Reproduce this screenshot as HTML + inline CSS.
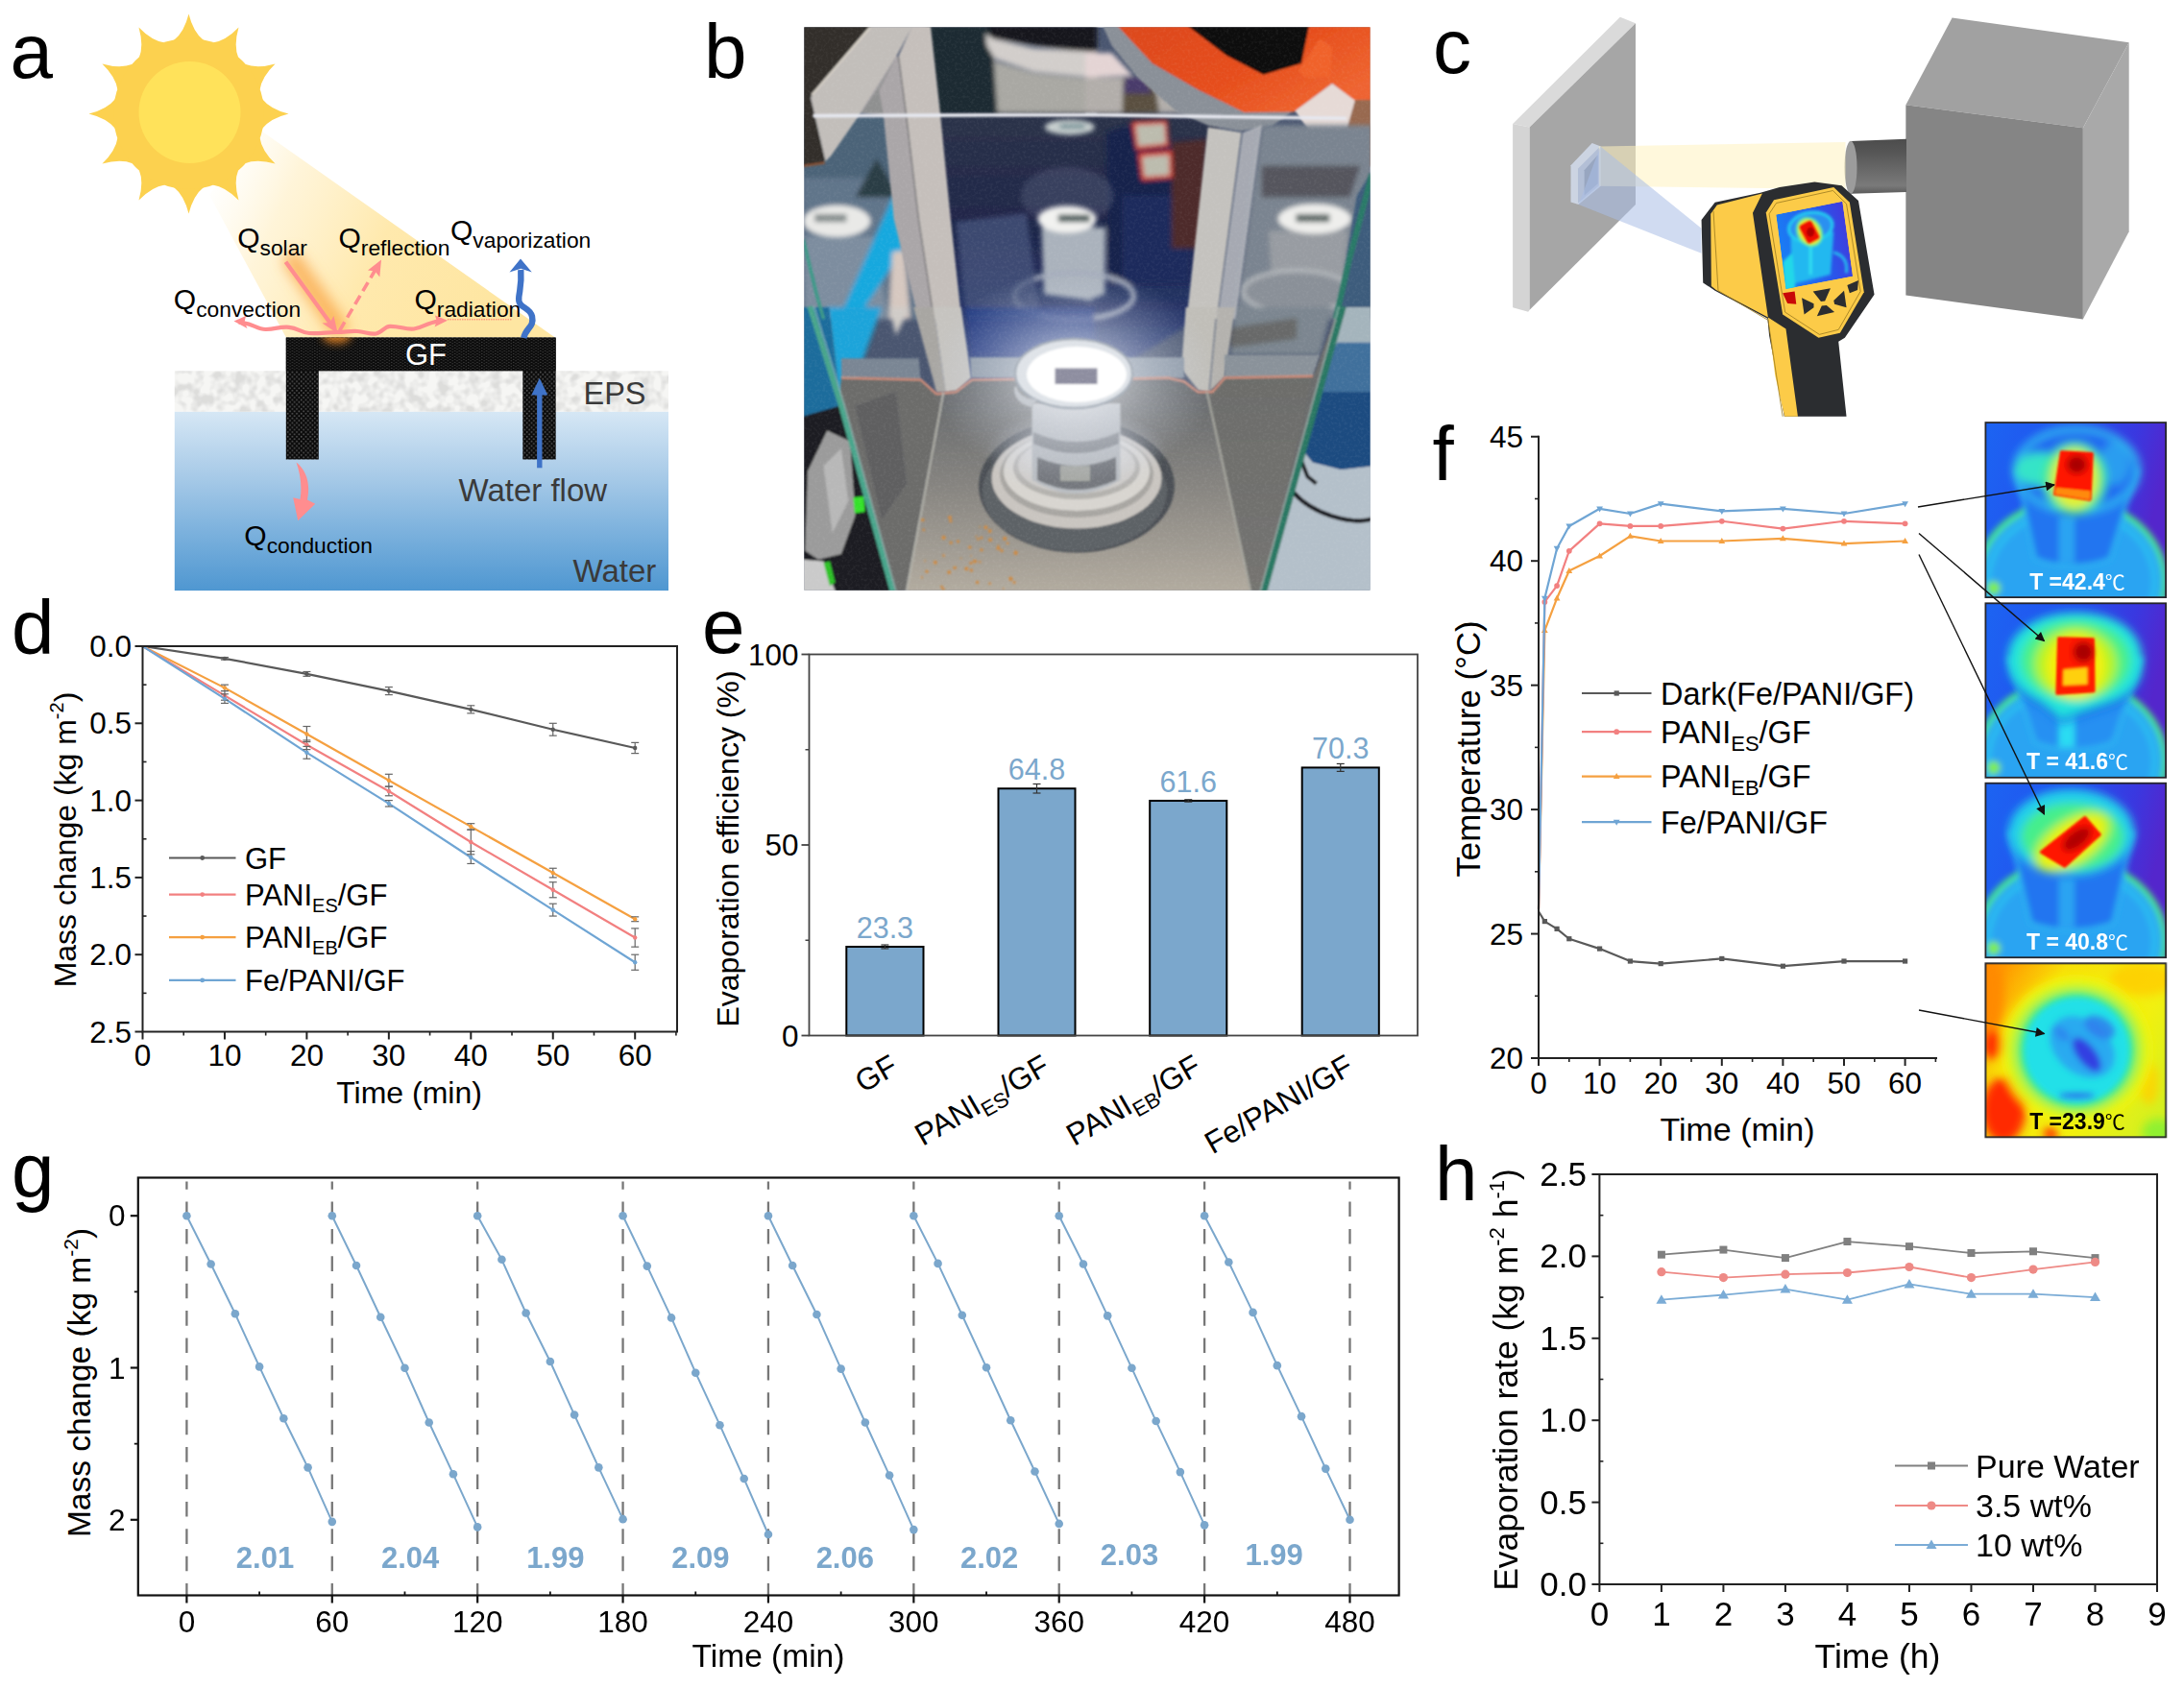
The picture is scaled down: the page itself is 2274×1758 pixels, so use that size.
<!DOCTYPE html>
<html><head><meta charset="utf-8"><title>Figure</title>
<style>html,body{margin:0;padding:0;background:#fff}svg{display:block}text{font-family:'Liberation Sans', Arial, sans-serif}</style>
</head><body>
<svg width="2274" height="1758" viewBox="0 0 2274 1758">
<rect width="2274" height="1758" fill="#fff"/>
<g id="panel_a">
<defs>
<linearGradient id="beam" gradientUnits="userSpaceOnUse" x1="215" y1="195" x2="500" y2="330"><stop offset="0" stop-color="#fff6dc" stop-opacity="0"/><stop offset="0.25" stop-color="#fff1cc" stop-opacity="0.75"/><stop offset="0.6" stop-color="#ffe9ad"/><stop offset="1" stop-color="#fee6a2"/></linearGradient>
<linearGradient id="water" x1="0" x2="0" y1="0" y2="1"><stop offset="0" stop-color="#d6e7f5"/><stop offset="0.35" stop-color="#a9cbe8"/><stop offset="0.7" stop-color="#78afdc"/><stop offset="1" stop-color="#4f97d1"/></linearGradient>
<pattern id="gfdots" width="4.7" height="4.8" patternUnits="userSpaceOnUse"><rect width="4.7" height="4.8" fill="#0a0a0a"/><circle cx="1.2" cy="1.2" r="0.85" fill="#5a5a5a"/><circle cx="3.55" cy="3.6" r="0.85" fill="#5a5a5a"/></pattern>
<pattern id="gfdots2" width="4.7" height="3" patternUnits="userSpaceOnUse"><rect width="4.7" height="3" fill="#0a0a0a"/><ellipse cx="1.2" cy="0.8" rx="0.85" ry="0.5" fill="#4a4a4a"/><ellipse cx="3.55" cy="2.3" rx="0.85" ry="0.5" fill="#4a4a4a"/></pattern>
<filter id="epsn" x="0" y="0" width="100%" height="100%"><feTurbulence type="fractalNoise" baseFrequency="0.09" numOctaves="2" seed="4" result="n"/><feColorMatrix type="matrix" values="0 0 0 0 0.72  0 0 0 0 0.72  0 0 0 0 0.71  3.2 0 0 0 -1.25"/><feComposite in2="SourceGraphic" operator="in"/></filter>
<filter id="glow" x="-50%" y="-50%" width="200%" height="200%"><feGaussianBlur stdDeviation="7"/></filter>
<filter id="glow2" x="-50%" y="-50%" width="200%" height="200%"><feGaussianBlur stdDeviation="4"/></filter>
</defs>
<path d="M270.7,135.3 L577.9,351.6 L297.9,351.6 L218,203 Z" fill="url(#beam)"/>
<path d="M180.95,42.07 Q191.76,33.63 196.5,14.5 Q201.24,33.63 212.05,42.07 Z M221.25,44.53 Q234.82,42.63 248.5,28.43 Q243.04,47.38 248.18,60.08 Z M254.92,66.82 Q267.62,71.96 286.57,66.5 Q272.37,80.18 270.47,93.75 Z M272.93,102.95 Q281.37,113.76 300.5,118.5 Q281.37,123.24 272.93,134.05 Z M270.47,143.25 Q272.37,156.82 286.57,170.5 Q267.62,165.04 254.92,170.18 Z M248.18,176.92 Q243.04,189.62 248.5,208.57 Q234.82,194.37 221.25,192.47 Z M212.05,194.93 Q201.24,203.37 196.5,222.5 Q191.76,203.37 180.95,194.93 Z M171.75,192.47 Q158.18,194.37 144.5,208.57 Q149.96,189.62 144.82,176.92 Z M138.08,170.18 Q125.38,165.04 106.43,170.5 Q120.63,156.82 122.53,143.25 Z M120.07,134.05 Q111.63,123.24 92.5,118.5 Q111.63,113.76 120.07,102.95 Z M122.53,93.75 Q120.63,80.18 106.43,66.5 Q125.38,71.96 138.08,66.82 Z M144.82,60.08 Q149.96,47.38 144.5,28.43 Q158.18,42.63 171.75,44.53 Z" fill="#fcd14f"/>
<circle cx="196.5" cy="118.5" r="78.5" fill="#fcd14f"/>
<circle cx="197.5" cy="117.0" r="53" fill="#ffe25a"/>
<rect x="181.8" y="428.6" width="514.2" height="186.5" fill="url(#water)"/>
<rect x="181.8" y="386.4" width="514.2" height="42.3" fill="#f6f6f4"/>
<rect x="181.8" y="386.4" width="514.2" height="42.3" fill="#888" filter="url(#epsn)"/>
<g filter="url(#glow)"><path d="M305,272 L352,340" stroke="#f9a643" stroke-width="20" stroke-linecap="round" fill="none" opacity="0.75"/></g>
<path d="M297.8,351.6 H578.7 V478.6 H544.3 V386.2 H331.8 V478.6 H297.8 Z" fill="url(#gfdots)"/>
<rect x="297.8" y="351.6" width="280.9" height="34.6" fill="url(#gfdots2)"/>
<clipPath id="gfclip"><path d="M297.8,351.6 H578.7 V478.6 H544.3 V386.2 H331.8 V478.6 H297.8 Z"/></clipPath>
<g clip-path="url(#gfclip)"><ellipse cx="350.5" cy="350" rx="15" ry="8" fill="#f08a28" filter="url(#glow2)" opacity="0.8"/></g>
<text x="443.5" y="380" font-size="31" text-anchor="middle" fill="#fff" >GF</text>
<line x1="297.5" y1="272.7" x2="346" y2="339.5" stroke="#ff8d8f" stroke-width="4.2"/>
<path d="M351.8,347.5 L335.5,336.5 L343.5,336 L347.5,329 Z" fill="#ff8d8f"/>
<line x1="353.5" y1="344.5" x2="390.5" y2="281.5" stroke="#ff8d8f" stroke-width="3.6" stroke-dasharray="10.5 5.5"/>
<path d="M397,270.5 L395.3,288.5 L390.5,282.5 L383,281.5 Z" fill="#ff8d8f"/>
<path d="M250,336 C262,336 268,343.5 277,343 C288,342.5 292,340 301,340.8 C310,341.5 314,346.5 322,347 C334,347.5 340,346 351,346 C360,346 364,344.5 372,345 C380,345.5 385,348.5 391.5,347.5 C398,346.5 400,340 406,339.8 C416,339.5 422,343.5 431,342.5 C440,341.5 444,336 457,334.5" stroke="#ff8d8f" stroke-width="4.2" fill="none" stroke-linecap="round"/>
<path d="M243.5,334.5 L256,329 L254.5,335.5 L257.5,342 Z" fill="#ff8d8f"/>
<path d="M466,333.8 L453,328.5 L454.8,334.5 L452.5,340.5 Z" fill="#ff8d8f"/>
<line x1="466" y1="332.8" x2="532.5" y2="332.8" stroke="#ff6060" stroke-width="1" stroke-dasharray="1.5 1" opacity="0.8"/>
<path d="M545.3,352 C547.5,341 556.5,341 554,329.5 C551.5,318.5 538.5,322 540.3,309 C541.5,300 543.2,296 542.3,281" stroke="#3f73c8" stroke-width="6.4" fill="none"/>
<path d="M542,269.5 L553.8,283.5 L542.3,279.8 L530.5,283.5 Z" fill="#3f73c8"/>
<line x1="561.8" y1="487.3" x2="561.8" y2="408" stroke="#3f73c8" stroke-width="5.4"/>
<path d="M561.8,393.8 L570.3,411.5 L553.3,411.5 Z" fill="#3f73c8"/>
<path d="M308.5,481.5 C319,490 323.5,503 320,520.5 L328.2,524.8 L310.2,542.2 L305.2,518.2 L312.5,520 C315,505 312,492 308.5,481.5 Z" fill="#ff8d8f"/>
<text x="247.2" y="258.2" font-size="30">Q<tspan font-size="22.8" dy="8">solar</tspan></text>
<text x="352.5" y="258.2" font-size="30">Q<tspan font-size="22.8" dy="8">reflection</tspan></text>
<text x="469" y="249.5" font-size="30">Q<tspan font-size="22.8" dy="8">vaporization</tspan></text>
<text x="180.8" y="321.5" font-size="30">Q<tspan font-size="22.8" dy="8">convection</tspan></text>
<text x="431.5" y="321.5" font-size="30">Q<tspan font-size="22.8" dy="8">radiation</tspan></text>
<text x="254.3" y="567.7" font-size="30">Q<tspan font-size="22.8" dy="8">conduction</tspan></text>
<text x="607.5" y="421" font-size="32.5" text-anchor="start" fill="#3a3a3a" >EPS</text>
<text x="477.5" y="522.3" font-size="33" text-anchor="start" fill="#3a3a3a" >Water flow</text>
<text x="596.5" y="605.6" font-size="33" text-anchor="start" fill="#3a3a3a" >Water</text>
<text x="10.5" y="81" font-size="80" text-anchor="start" fill="#000" >a</text>
</g>
<g id="panel_b">
<defs>
<filter id="pb1" x="-10%" y="-10%" width="120%" height="120%"><feGaussianBlur stdDeviation="1.2"/></filter>
<filter id="pb2" x="-10%" y="-10%" width="120%" height="120%"><feGaussianBlur stdDeviation="2.5"/></filter>
<filter id="pb4" x="-20%" y="-20%" width="140%" height="140%"><feGaussianBlur stdDeviation="5"/></filter>
<filter id="pb8" x="-30%" y="-30%" width="160%" height="160%"><feGaussianBlur stdDeviation="10"/></filter>
<filter id="pnoise" x="0" y="0" width="100%" height="100%"><feTurbulence type="fractalNoise" baseFrequency="0.35" numOctaves="2" seed="7"/><feColorMatrix type="matrix" values="0 0 0 0 1  0 0 0 0 1  0 0 0 0 1  0.9 0 0 0 -0.38"/><feComposite in2="SourceGraphic" operator="in"/></filter>
<radialGradient id="glowb" cx="0.5" cy="0.5" r="0.5"><stop offset="0" stop-color="#fff" stop-opacity="0.85"/><stop offset="0.45" stop-color="#e8ecf4" stop-opacity="0.45"/><stop offset="1" stop-color="#c8d0e0" stop-opacity="0"/></radialGradient>
<linearGradient id="floorg" x1="0" x2="0" y1="0" y2="1"><stop offset="0" stop-color="#606468"/><stop offset="0.5" stop-color="#868480"/><stop offset="1" stop-color="#b3aca0"/></linearGradient>
<linearGradient id="backg" x1="0" x2="0" y1="0" y2="1"><stop offset="0" stop-color="#2c3248"/><stop offset="0.45" stop-color="#1e264a"/><stop offset="1" stop-color="#2c4080"/></linearGradient>
<linearGradient id="orng" x1="0" x2="1" y1="0" y2="0.6"><stop offset="0" stop-color="#dc481a"/><stop offset="0.6" stop-color="#e64e1c"/><stop offset="1" stop-color="#ee6430"/></linearGradient>
</defs>
<clipPath id="pbc"><rect x="837.3" y="28.3" width="589.3" height="586.5"/></clipPath>
<g clip-path="url(#pbc)">
<rect x="837.3" y="28.3" width="589.3" height="586.5" fill="#4a5670"/>
<g filter="url(#pb2)">
<polygon points="958.56,115.5 1142.21,115.5 1130,115.5 1269.58,122.85 1247.54,332.21 1142.21,397.13 976.92,397.13" fill="url(#backg)" />
<polygon points="965.9,25.51 1032.02,25.51 1039.37,119.17 976.92,119.17" fill="#1c2a30" />
<polygon points="1028.35,25.51 1142.21,25.51 1142.21,56.73 1032.02,40.2" fill="#17171c" />
<path d="M1026.14,34.69 L1033.86,40.2 L1076.1,50.3 L1142.21,53.98 L1142.21,81.52 L1076.1,75.1 L1035.69,61.32 L1027.43,47.55" fill="#d2cecb"/>
<polygon points="1034.78,63.16 1076.1,76.01 1142.21,82.44 1142.21,117.34 1038.45,117.34" fill="#a9a8a3" />
<polygon points="1130,80.61 1227.34,80.61 1232.85,117.34 1130,117.34" fill="#b2aeaa" />
<polygon points="1130,54.89 1157.55,54.89 1179.59,78.77 1130,80.61" fill="#e4d4d4" />
<polygon points="1169.49,82.44 1201.63,82.44 1207.13,117.34 1168.57,117.34" fill="#5a5040" />
<polygon points="1171.32,80.61 1190.61,80.61 1199.79,97.13 1169.49,97.13" fill="#4a3a6a" />
</g>
<g filter="url(#pb1)">
<polygon points="1147.45,25.51 1164.89,25.51 1199.79,65.91 1247.54,93.46 1295.29,116.42 1346.71,115.5 1324.67,131.11 1291.62,136.62 1258.56,131.11 1225.5,116.42 1185.1,81.52 1157.55,47.55" fill="#8a9098" />
<polygon points="1162.14,25.51 1429.36,25.51 1429.36,106.32 1410.99,105.4 1387.12,87.03 1347.63,116.42 1295.29,116.97 1247.54,93.46 1199.79,65.91" fill="url(#orng)" />
<polygon points="1234.68,25.51 1363.24,25.51 1354.98,65.91 1315.49,77.85 1276.92,57.65" fill="#0e0808" />
<polygon points="1352.22,73.26 1374.26,40.2 1387.12,49.38 1385.28,80.61 1357.73,80.61" fill="#f0622c" />
<polygon points="1348.55,115.5 1387.12,87.03 1411.91,105.4 1391.71,173.35 1384.36,166.92" fill="#e6dad6" />
<polygon points="1410.99,104.11 1429.36,104.11 1429.36,173.35 1391.16,173.9" fill="#98694f" />
</g>
<g filter="url(#pb2)">
<polygon points="1152.04,137.54 1175.91,130.19 1218.15,148.56 1240.19,203.65 1240.19,295.48 1153.88,295.48" fill="#19244c" />
<polygon points="1168.57,203.65 1240.19,203.65 1240.19,295.48 1168.57,295.48" fill="#1c2c5c" />
<polygon points="1219.99,148.56 1256.72,144.89 1249.38,258.75 1219.99,258.75" fill="#4e2a2a" />
<polygon points="1178.12,126.52 1215.4,125.05 1217.24,152.23 1183.26,156.27" fill="#d8382c" />
<polygon points="1182.34,130.19 1212.64,128.72 1214.11,149.48 1185.1,152.6" fill="#bcbcae" />
<polygon points="1185.1,159.58 1219.99,156.82 1220.91,185.29 1188.77,188.04" fill="#d8382c" />
<polygon points="1189.14,163.25 1217.24,161.05 1217.79,182.53 1191.52,184.37" fill="#bcbcae" />
<ellipse cx="1110.99" cy="203.65" rx="48" ry="30" fill="#6a7490" opacity="0.3"/>
<polygon points="1084.36,236.71 1142.21,236.71 1130,236.71 1151.12,236.71 1150.2,306.5 1130,313.85 1142.21,313.85 1087.12,306.5" fill="#aab2bc" />
<ellipse cx="1118.34" cy="308.34" rx="62" ry="24" fill="none" stroke="#a4acbc" stroke-width="5"/>
<ellipse cx="1110.99" cy="228.45" rx="30.5" ry="14" fill="#f2f2f0" />
<polygon points="1101.81,223.49 1134.87,223.49 1134.87,231.2 1101.81,231.2" fill="#4a5a58" />
<ellipse cx="1113.75" cy="132.4" rx="26" ry="8" fill="#c6cece" />
<polygon points="1103.65,129.27 1129.36,129.27 1129.36,133.87 1103.65,133.87" fill="#6a8a90" />
<polygon points="995.29,231.2 1068.75,222.02 1083.44,332.21 1006.31,332.21" fill="#46547c" opacity="0.75"/>
<polygon points="1004.47,320 1140.01,320 1140.01,371.42 1011.82,371.42" fill="#1f3a84" opacity="0.8"/>
</g>
<g filter="url(#pb2)">
<polygon points="835.51,120.09 947.54,120.09 976.92,332.21 835.51,332.21" fill="#61758a" />
<polygon points="835.51,120.09 947.54,120.09 956.72,185.29 835.51,185.29" fill="#4c6478" />
<polygon points="890.61,205.49 912.64,165.09 937.44,205.49" fill="#2c3c44" />
<polygon points="837.35,245.9 908.97,245.9 925.5,332.21 837.35,332.21" fill="#8494a4" opacity="0.8"/>
<polygon points="929.17,205.49 941.11,203.65 940.19,260.59 892.44,332.21 873.16,332.21" fill="#17a8de" />
<polygon points="861.22,320 918.15,320 885.1,411.83 874.08,419.17" fill="#1aa4da" />
<ellipse cx="871.32" cy="230.28" rx="35" ry="16.5" fill="#e9e9e7" />
<polygon points="848.37,222.94 881.42,222.94 881.42,231.2 848.37,231.2" fill="#848c8c" />
<polygon points="929.17,262.42 942.03,260.59 947.54,332.21 925.5,332.21" fill="#d6c8c0" />
<polygon points="925.5,320 947.54,320 932.85,349.38" fill="#d0ccc8" />
</g>
<g filter="url(#pb1)">
<polygon points="834.63,25.63 908.09,25.63 844.11,101.46 859.51,167.81 834.63,174.33" fill="#302f2b" />
<polyline points="834.63,173.14 858.92,169.59" fill="none" stroke="#8a5236" stroke-width="2.2" />
<polygon points="908.09,25.63 950.74,25.63 932.97,59.4 896.24,117.45 865.44,161.89 859.51,168.05 844.11,101.46" fill="#c2beba" />
<polyline points="906.31,28 845.29,99.09" fill="none" stroke="#d8d2c8" stroke-width="2.2" />
<polygon points="933.21,59.04 935.34,58.81 943.64,120.42 956.67,228 972.33,332.21 956.35,332.21 930.6,228 919.94,120.42 896.24,117.81" fill="#aaa6a8" />
<polygon points="931.79,62.36 914.01,91.98 896.83,117.45 919.94,118.64 915.2,94.35" fill="#8f9090" />
<polygon points="950.15,25.63 968.75,25.63 979.18,120.42 989.84,228 1001.17,332.21 972.33,332.21 956.67,228 943.64,120.42 935.34,59.04" fill="#c5bfbb" />
<polyline points="935.58,59.04 943.64,120.42 956.43,228 972.33,332.21" fill="none" stroke="#6a6a6c" stroke-width="1.2" />
<polygon points="951.21,320 971.78,320 984.64,408.52 975.09,408.52" fill="#a8a6a2" />
<polygon points="971.78,320 1000.8,320 1011.27,393.46 996.21,406.69 984.64,408.52" fill="#c6c4c0" />
</g>
<g filter="url(#pb2)">
<polygon points="1313.65,130.19 1429.36,130.19 1429.36,332.21 1286.11,332.21" fill="#7a8490" />
<polygon points="1313.65,172.43 1416.5,172.43 1405.48,205.49 1313.65,205.49" fill="#4c4a50" opacity="0.8"/>
<polygon points="1321,240.39 1403.65,240.39 1398.14,299.16 1324.67,299.16" fill="#989ca2" />
<ellipse cx="1350.39" cy="303.75" rx="56" ry="22" fill="#8a9098" stroke="#b4b8bc" stroke-width="4"/>
<ellipse cx="1368.75" cy="227.9" rx="38" ry="15.5" fill="#eeeeec" />
<polygon points="1349.47,222.94 1384.36,222.94 1384.36,231.2 1349.47,231.2" fill="#5a6664" />
<polygon points="1286.11,320 1387.12,320 1374.26,369.59 1280.6,369.59" fill="#7c8690" />
<polygon points="1276.92,342.04 1350.39,331.02 1350.39,353.06 1280.6,362.24" fill="#5a5650" opacity="0.6"/>
</g>
<g filter="url(#pb1)">
<polygon points="1257.64,132.4 1292.53,137.91 1266.82,332.21 1235.6,332.21" fill="#c4c2be" />
<polygon points="1293.82,137.91 1314.02,130.19 1286.47,332.21 1267.74,332.21" fill="#c4c6c8" opacity="0.75"/>
<polygon points="1234.68,320 1266.82,320 1258.56,408.15 1247.54,406.32 1230.09,384.28" fill="#c0beb8" />
<polygon points="1267.74,320 1286.11,320 1275.09,392.54 1259.48,408.15" fill="#b4b2ae" />
<polyline points="846.53,120.64 1142.21,119.36 1130,119.36 1258.56,121.38 1401.81,123.21" fill="none" stroke="#e6e8f0" stroke-width="3.6" />
</g>
<g filter="url(#pb1)">
<polygon points="1009.98,372.34 1142.21,372.34 1130,372.34 1232.85,372.34 1232.85,393.46 1130,395.3 1142.21,393.46 1010.9,393.46" fill="#8a96a4" />
<polygon points="875.91,373.26 956.72,373.26 958.56,395.3 875.91,393.46" fill="#7a8694" />
<polygon points="1275.09,369.59 1374.26,369.59 1366.91,392.54 1275.09,393.46" fill="#8a929a" />
</g>
<g filter="url(#pb1)">
<polygon points="982.43,408.52 996.21,407.24 1011.82,394.38 1142.21,393.09 1130,394.38 1216.32,393.46 1232.85,397.13 1247.54,408.15 1262.23,408.15 1275.09,393.46 1366.91,391.99 1313.65,617.52 1130,617.52 1142.21,617.52 942.03,617.52" fill="url(#floorg)" />
<polygon points="875.91,393.46 958.56,395.3 975.09,409.99 982.43,408.52 942.95,617.52 930.09,617.52 872.24,422.85" fill="#6c6c6a" />
<polygon points="890.61,422.85 932.85,408.15 943.87,503.65 918.15,540.39" fill="#585a5c" opacity="0.7"/>
<polygon points="1258.56,408.15 1275.09,393.46 1366.91,391.99 1394.46,320 1401.81,320 1313.65,617.52 1301.72,617.52" fill="#6e6e6c" opacity="0.9"/>
<polyline points="875.91,393.46 958.56,395.3 975.09,409.99 995.29,408.15 1011.82,395.3 1142.21,393.46 1130,395.3 1216.32,393.46 1232.85,397.13 1247.54,408.15 1262.23,408.15 1275.09,393.46 1366.91,391.63" fill="none" stroke="#d8917c" stroke-width="2.2" />
<polyline points="982.43,408.52 943.5,617.52" fill="none" stroke="#b8b8b0" stroke-width="1.8" />
<polyline points="1256.72,408.15 1269.58,466.92 1302.64,617.52" fill="none" stroke="#a8a8a0" stroke-width="2" />
</g>
<g filter="url(#pb1)" fill="#cf8a42">
<circle cx="982.6" cy="578.69" r="1.32"/>
<circle cx="1019.56" cy="584.98" r="0.89"/>
<circle cx="959.89" cy="601.31" r="1.16"/>
<circle cx="982.23" cy="613.51" r="1.46"/>
<circle cx="1043.05" cy="573.46" r="1.69"/>
<circle cx="973.77" cy="585.68" r="2.02"/>
<circle cx="1011.4" cy="593.89" r="1.74"/>
<circle cx="965.03" cy="595.2" r="1.63"/>
<circle cx="988.99" cy="539.1" r="2.01"/>
<circle cx="1006.31" cy="592.16" r="2.03"/>
<circle cx="1030.69" cy="607.76" r="1.35"/>
<circle cx="1039.46" cy="571.01" r="2.11"/>
<circle cx="1047.33" cy="544.23" r="0.99"/>
<circle cx="980.48" cy="611.18" r="1.41"/>
<circle cx="1021.86" cy="559.93" r="1.51"/>
<circle cx="997.53" cy="563.78" r="1.62"/>
<circle cx="1017.57" cy="606.46" r="1.75"/>
<circle cx="1052.39" cy="602.77" r="2.19"/>
<circle cx="1026.36" cy="549.29" r="2"/>
<circle cx="1056" cy="606.5" r="1.6"/>
<circle cx="1030.66" cy="553" r="1.96"/>
<circle cx="1016.49" cy="558.69" r="0.89"/>
<circle cx="1044.82" cy="613.06" r="0.92"/>
<circle cx="1039.43" cy="568.37" r="1.01"/>
<circle cx="988.24" cy="596.01" r="2.02"/>
<circle cx="963.02" cy="584.11" r="0.86"/>
<circle cx="1031.13" cy="562.24" r="2.03"/>
<circle cx="1057.61" cy="575.7" r="2.2"/>
<circle cx="989.84" cy="542.65" r="1.64"/>
<circle cx="961.73" cy="551.94" r="1.37"/>
<circle cx="1020.22" cy="548.76" r="0.86"/>
<circle cx="1046.21" cy="560.92" r="2.14"/>
<circle cx="1049.13" cy="565.85" r="1.44"/>
<circle cx="1011.09" cy="586.38" r="1.63"/>
<circle cx="1015.05" cy="584.55" r="2.12"/>
<circle cx="1009.77" cy="569.97" r="1.81"/>
<circle cx="982.56" cy="559.94" r="2.17"/>
<circle cx="1011.2" cy="579.02" r="0.82"/>
<circle cx="1000.5" cy="581.45" r="0.83"/>
<circle cx="1020.76" cy="585.48" r="0.88"/>
<circle cx="1021.93" cy="572.68" r="1.75"/>
<circle cx="994.17" cy="591.24" r="1.83"/>
<circle cx="960.8" cy="541.39" r="1.75"/>
<circle cx="1055.86" cy="556.08" r="1.44"/>
<circle cx="1018.42" cy="561.4" r="1.31"/>
<circle cx="990.14" cy="565.19" r="1.63"/>
</g>
<g filter="url(#pb1)">
<ellipse cx="1121" cy="506" rx="102" ry="69.5" fill="#4b4f54" />
<ellipse cx="1119" cy="512" rx="96" ry="62" fill="#5d6266" />
<ellipse cx="1121" cy="498" rx="88.5" ry="52.5" fill="#c9c5c0" />
<ellipse cx="1121" cy="494" rx="80" ry="45" fill="#a8a6a2" />
<ellipse cx="1121" cy="491" rx="76" ry="41" fill="#d8d5d0" />
<ellipse cx="1121" cy="487" rx="66" ry="33" fill="#b4b2ae" />
<ellipse cx="1121" cy="485" rx="61" ry="29" fill="#cfccc8" />
<ellipse cx="1120" cy="470" rx="95" ry="45" fill="url(#glowb)" />
<path d="M1074.5,420 L1074.5,500 Q1120,528 1166.5,500 L1166.5,420 Z" fill="#b9bdc2"/>
<path d="M1076,450 Q1120,470 1165,450 L1165,462 Q1120,482 1076,462 Z" fill="#8a8e94"/>
<path d="M1080,476 Q1120,494 1162,476 L1162,500 Q1120,520 1080,500 Z" fill="#74787e"/>
<rect x="1104" y="485" width="31" height="16" fill="#a6a8a4"/>
</g>
<ellipse cx="1118" cy="392" rx="150" ry="110" fill="url(#glowb)" />
<g filter="url(#pb1)">
<ellipse cx="1118" cy="389" rx="61" ry="36" fill="#dfe3e8" stroke="#aab2bc" stroke-width="2.5"/>
<path d="M1058,402 Q1062,416 1080,416 L1074,424 Q1056,420 1056,404 Z" fill="#c8ccd2"/>
<ellipse cx="1121" cy="390" rx="52" ry="29" fill="#ffffff" />
<rect x="1098.5" y="383.5" width="44" height="16.5" fill="#8e8ea0"/>
</g>
<g filter="url(#pb1)">
<polygon points="835.51,320 863.06,320 874.08,422.85 835.51,437.54" fill="#1a6c9c" />
<polygon points="835.51,433.87 874.08,422.85 929.17,617.52 835.51,617.52" fill="#1d1f22" />
<polygon points="841.02,490.8 861.22,448.56 885.1,459.58 890.61,536.71 875.91,577.12 852.04,582.63 838.26,573.44" fill="#9b9b9b" />
<polygon points="857.55,485.29 875.91,466.92 883.26,522.02 866.73,555.08" fill="#c4c4c4" opacity="0.7"/>
<polygon points="835.51,582.63 857.55,584.46 870.4,617.52 835.51,617.52" fill="#cacaca" />
<polygon points="888.4,517.98 899.42,516.88 900.52,533.04 889.87,534.51" fill="#34e22c" />
<polygon points="857.55,586.3 863.98,584.46 869.49,606.5 863.98,610.17" fill="#2ec228" />
<polyline points="843.22,319.08 875.91,422.85 930.09,618.44" fill="none" stroke="#48a68c" stroke-width="5.5" />
<polyline points="847.45,319.08 879.59,422.85 933.76,618.44" fill="none" stroke="#9ac4c0" stroke-width="1.6" opacity="0.7"/>
<polyline points="836.43,249.57 850.2,306.5 857.55,332.21" fill="none" stroke="#3c9a88" stroke-width="3.5" />
</g>
<g filter="url(#pb1)">
<polygon points="1412.83,203.65 1429.36,176.11 1429.36,332.21 1390.79,332.21" fill="#3c5c7c" />
<polygon points="1401.81,320 1429.36,320 1429.36,617.52 1313.65,617.52" fill="#b4c0ca" />
<polygon points="1401.81,320 1429.36,320 1429.36,356.73 1390.79,356.73" fill="#a4b4bc" />
<path d="M1379.77,375.1 L1392.63,356.73 L1429.36,356.73 L1429.36,485.29 L1396.3,488.96 L1366.91,481.62 L1357.73,470.6" fill="#3f6f9c"/>
<polygon points="1376.1,408.15 1429.36,408.15 1429.36,485.29 1396.3,488.96 1366.91,481.62 1357.73,470.6" fill="#1e4c80" />
<polyline points="1354.98,479.78 1361.4,496.31 1370.59,503.65" fill="none" stroke="#15171a" stroke-width="4" />
<path d="M1346.71,512.84 Q1361.4,529.69 1387.12,537.63 T1429.36,540.39" fill="none" stroke="#15171a" stroke-width="4.5"/>
<polyline points="1428.44,181.62 1405.48,267.93 1390.79,332.21" fill="none" stroke="#2c7a68" stroke-width="6" />
<polyline points="1398.5,319.08 1315.49,618.44" fill="none" stroke="#2a7864" stroke-width="6.5" />
<polyline points="1394.1,319.08 1311.45,618.44" fill="none" stroke="#a8c8c0" stroke-width="1.5" opacity="0.7"/>
</g>
<rect x="837.3" y="28.3" width="589.3" height="586.5" fill="#fff" filter="url(#pnoise)" opacity="0.16"/>
</g>
<text x="733" y="80.5" font-size="80" text-anchor="start" fill="#000" >b</text>
</g>
<g id="panel_c">
<defs>
<linearGradient id="cyl" x1="0" x2="0" y1="0" y2="1"><stop offset="0" stop-color="#4c4c4c"/><stop offset="0.25" stop-color="#565656"/><stop offset="0.6" stop-color="#6b6b6b"/><stop offset="0.85" stop-color="#7a7a7a"/><stop offset="1" stop-color="#5a5a5a"/></linearGradient>
<linearGradient id="scr" x1="0" x2="1" y1="0.3" y2="0"><stop offset="0" stop-color="#1a7cf4"/><stop offset="0.55" stop-color="#2a55ea"/><stop offset="1" stop-color="#4a30d8"/></linearGradient>
<filter id="cb2" x="-30%" y="-30%" width="160%" height="160%"><feGaussianBlur stdDeviation="1.6"/></filter>
<filter id="cb1" x="-30%" y="-30%" width="160%" height="160%"><feGaussianBlur stdDeviation="0.8"/></filter>
</defs>
<polygon points="1575.11,128.9 1686.89,17.72 1703,24.17 1592.63,132.53" fill="#dadada" />
<polygon points="1575.11,128.9 1592.63,132.53 1592.63,322.86 1591.22,324.67 1575.11,320.24" fill="#d4d4d4" />
<polygon points="1592.63,132.53 1703,24.17 1703,213.09 1592.63,322.86" fill="#a6a6a6" />
<polygon points="1635.53,172.21 1657.68,149.04 1666.75,152.47 1666.75,193.76 1643.59,212.89 1635.53,210.47" fill="#ccd4e2" />
<polygon points="1642.98,175.63 1665.14,153.47 1665.14,192.95 1642.98,211.48" fill="#b3bfd6" />
<polygon points="1649.63,177.24 1663.73,161.13 1663.73,191.34 1649.63,203.42" fill="#98a6c0" />
<polygon points="1984.36,109.35 2032.59,18.41 2216.69,44.18 2168.82,133.28" fill="#a1a1a1" />
<polygon points="2168.82,133.28 2216.69,44.18 2216.69,241.16 2168.82,332.47" fill="#a9a9a9" />
<polygon points="1984.36,109.35 2168.82,133.28 2168.82,332.47 1984.36,307.44" fill="#858585" />
<path d="M1927,147 L1985,144.7 L1985,200 L1927,201.8 Z" fill="url(#cyl)"/>
<ellipse cx="1927" cy="174.3" rx="6.5" ry="27.5" fill="#9c9c9c"/>
<polygon points="1664.73,152.47 1921.53,148.04 1921.53,196.98 1664.73,193.76" fill="#fff2c0" fill-opacity="0.55"/>
<polygon points="1666.34,152.47 1771.48,237.66 1771.48,263.85 1643.59,212.89" fill="#a9bde6" fill-opacity="0.55"/>
<polygon points="1771.57,228.89 1785.67,210.64 1832.95,200.69 1852.85,194.88 1889.35,189.58 1917.55,193.22 1934.97,208.98 1951.56,306.86 1920.87,351.65 1914.23,355.8 1922.53,433.77 1857.83,433.77 1842.07,349.16 1840.41,331.75 1785.67,302.71 1773.22,294.42" fill="#2b2d30" />
<polygon points="1781.19,222.75 1787.82,213.46 1834.94,201.52 1824.98,221.76 1840.91,330.58 1786.83,301.88 1781.85,298.07" fill="#fccb48" />
<polygon points="1840.91,330.58 1859.49,342.53 1871.93,433.77 1858.16,433.77 1848.21,390.64 1843.23,349.16" fill="#fccb48" />
<polygon points="1847.05,208.16 1909.26,194.88 1925.85,210.64 1940.78,304.37 1915.89,346.68 1893.5,351.65 1856.17,327.6 1838.75,221.43" fill="#fccb48" />
<polygon points="1849.54,211.47 1908.43,198.53 1922.53,212.3 1937.13,303.54 1914.23,343.36 1894.33,348.33 1858.66,325.11 1842.07,222.75" fill="none" stroke="#9a7a20" stroke-width="0.8"/>
<polyline points="1784.01,219.77 1788.98,302.71 1840.91,333.4 1849.54,390.64 1856.17,433.77" fill="none" stroke="#9a7a20" stroke-width="0.8"/>
<clipPath id="scrc"><polygon points="1849.2,223.42 1918.38,209.81 1929.16,287.78 1859.49,301.06"/></clipPath>
<g clip-path="url(#scrc)">
<polygon points="1849.2,223.42 1918.38,209.81 1929.16,287.78 1859.49,301.06" fill="url(#scr)" />
<g filter="url(#cb2)">
<polygon points="1864.47,247.97 1909.26,241.33 1905.94,286.12 1866.12,296.08" fill="#22b8f0" />
<polygon points="1856.17,272.85 1866.12,262.9 1869.44,301.06 1857.83,302.71" fill="#20d8e8" />
<ellipse cx="1885.2" cy="236.36" rx="23" ry="15" fill="#2a90f0" stroke="#20d0f0" stroke-width="3" transform="rotate(-10 1885.2 236.36)"/>
<path d="M1909.26,262.9 Q1924.53,266.9 1922.53,284.47" stroke="#20d0f0" stroke-width="2.5" fill="none"/>
<line x1="1885.2" y1="256.26" x2="1885.2" y2="286.12" stroke="#30e0f0" stroke-width="3"/>
<ellipse cx="1884.04" cy="241.67" rx="13" ry="16" fill="#60f080" transform="rotate(-30 1884.04 241.67)"/>
<ellipse cx="1884.04" cy="241.67" rx="10.5" ry="13.5" fill="#f0e020" transform="rotate(-30 1884.04 241.67)"/>
</g>
<g filter="url(#cb1)"><rect x="1877.04" y="231.17" width="14" height="21" rx="2.5" fill="#f01000" transform="rotate(-28 1884.04 241.67)"/><ellipse cx="1885.04" cy="241.67" rx="4" ry="5" fill="#b00000"/></g>
</g>
<polygon points="1856.17,305.2 1868.61,303.54 1870.27,316.81 1861.15,315.99" fill="#c80808" />
<polygon points="1887.69,303.54 1905.94,300.23 1900.13,313.5 1895.99,313.99" fill="#2b2d30" />
<polygon points="1876.08,310.18 1888.52,316.32 1888.52,320.13 1878.57,327.6" fill="#2b2d30" />
<polygon points="1909.26,313 1920.04,302.71 1922.53,320.13 1910.09,316.81" fill="#2b2d30" />
<polygon points="1891.84,329.26 1896.81,318.47 1901.79,317.98 1910.09,325.11" fill="#2b2d30" />
<polygon points="1923.36,296.91 1934.97,291.93 1934.14,301.88 1925.85,305.2" fill="#2b2d30" />
<text x="1492" y="75.5" font-size="80" text-anchor="start" fill="#000" >c</text>
</g>
<g id="panel_d">
<clipPath id="clipd"><rect x="148.5" y="673" width="556.5" height="401.5"/></clipPath>
<g clip-path="url(#clipd)">
<polyline fill="none" stroke="#595959" stroke-width="2.2" stroke-linejoin="round"  points="148.5,673 233.95,685.85 319.4,701.91 404.85,719.57 490.3,738.85 575.75,759.72 661.2,779"/>
<polyline fill="none" stroke="#f5a040" stroke-width="2.2" stroke-linejoin="round"  points="148.5,673 233.95,716.36 319.4,764.54 404.85,812.72 490.3,860.9 575.75,909.08 661.2,957.26"/>
<polyline fill="none" stroke="#f28080" stroke-width="2.2" stroke-linejoin="round"  points="148.5,673 233.95,724.39 319.4,775.78 404.85,823.96 490.3,876.96 575.75,926.75 661.2,976.53"/>
<polyline fill="none" stroke="#6fa5d4" stroke-width="2.2" stroke-linejoin="round"  points="148.5,673 233.95,727.6 319.4,783.81 404.85,836.81 490.3,893.02 575.75,947.63 661.2,1002.23"/>
</g>
<line x1="233.95" y1="684.56" x2="233.95" y2="687.13" stroke="#666" stroke-width="1.2" />
<line x1="229.95" y1="684.56" x2="237.95" y2="684.56" stroke="#666" stroke-width="1.2" />
<line x1="229.95" y1="687.13" x2="237.95" y2="687.13" stroke="#666" stroke-width="1.2" />
<circle cx="233.95" cy="685.85" r="2.2" fill="#595959"/>
<line x1="319.4" y1="699.5" x2="319.4" y2="704.32" stroke="#666" stroke-width="1.2" />
<line x1="315.4" y1="699.5" x2="323.4" y2="699.5" stroke="#666" stroke-width="1.2" />
<line x1="315.4" y1="704.32" x2="323.4" y2="704.32" stroke="#666" stroke-width="1.2" />
<circle cx="319.4" cy="701.91" r="2.2" fill="#595959"/>
<line x1="404.85" y1="715.56" x2="404.85" y2="723.59" stroke="#666" stroke-width="1.2" />
<line x1="400.85" y1="715.56" x2="408.85" y2="715.56" stroke="#666" stroke-width="1.2" />
<line x1="400.85" y1="723.59" x2="408.85" y2="723.59" stroke="#666" stroke-width="1.2" />
<circle cx="404.85" cy="719.57" r="2.2" fill="#595959"/>
<line x1="490.3" y1="734.83" x2="490.3" y2="742.86" stroke="#666" stroke-width="1.2" />
<line x1="486.3" y1="734.83" x2="494.3" y2="734.83" stroke="#666" stroke-width="1.2" />
<line x1="486.3" y1="742.86" x2="494.3" y2="742.86" stroke="#666" stroke-width="1.2" />
<circle cx="490.3" cy="738.85" r="2.2" fill="#595959"/>
<line x1="575.75" y1="753.3" x2="575.75" y2="766.15" stroke="#666" stroke-width="1.2" />
<line x1="571.75" y1="753.3" x2="579.75" y2="753.3" stroke="#666" stroke-width="1.2" />
<line x1="571.75" y1="766.15" x2="579.75" y2="766.15" stroke="#666" stroke-width="1.2" />
<circle cx="575.75" cy="759.72" r="2.2" fill="#595959"/>
<line x1="661.2" y1="773.38" x2="661.2" y2="784.62" stroke="#666" stroke-width="1.2" />
<line x1="657.2" y1="773.38" x2="665.2" y2="773.38" stroke="#666" stroke-width="1.2" />
<line x1="657.2" y1="784.62" x2="665.2" y2="784.62" stroke="#666" stroke-width="1.2" />
<circle cx="661.2" cy="779" r="2.2" fill="#595959"/>
<line x1="233.95" y1="713.15" x2="233.95" y2="719.57" stroke="#666" stroke-width="1.2" />
<line x1="229.95" y1="713.15" x2="237.95" y2="713.15" stroke="#666" stroke-width="1.2" />
<line x1="229.95" y1="719.57" x2="237.95" y2="719.57" stroke="#666" stroke-width="1.2" />
<circle cx="233.95" cy="716.36" r="2.2" fill="#f5a040"/>
<line x1="319.4" y1="756.51" x2="319.4" y2="772.57" stroke="#666" stroke-width="1.2" />
<line x1="315.4" y1="756.51" x2="323.4" y2="756.51" stroke="#666" stroke-width="1.2" />
<line x1="315.4" y1="772.57" x2="323.4" y2="772.57" stroke="#666" stroke-width="1.2" />
<circle cx="319.4" cy="764.54" r="2.2" fill="#f5a040"/>
<line x1="404.85" y1="806.3" x2="404.85" y2="819.15" stroke="#666" stroke-width="1.2" />
<line x1="400.85" y1="806.3" x2="408.85" y2="806.3" stroke="#666" stroke-width="1.2" />
<line x1="400.85" y1="819.15" x2="408.85" y2="819.15" stroke="#666" stroke-width="1.2" />
<circle cx="404.85" cy="812.72" r="2.2" fill="#f5a040"/>
<line x1="490.3" y1="857.69" x2="490.3" y2="864.11" stroke="#666" stroke-width="1.2" />
<line x1="486.3" y1="857.69" x2="494.3" y2="857.69" stroke="#666" stroke-width="1.2" />
<line x1="486.3" y1="864.11" x2="494.3" y2="864.11" stroke="#666" stroke-width="1.2" />
<circle cx="490.3" cy="860.9" r="2.2" fill="#f5a040"/>
<line x1="575.75" y1="904.26" x2="575.75" y2="913.9" stroke="#666" stroke-width="1.2" />
<line x1="571.75" y1="904.26" x2="579.75" y2="904.26" stroke="#666" stroke-width="1.2" />
<line x1="571.75" y1="913.9" x2="579.75" y2="913.9" stroke="#666" stroke-width="1.2" />
<circle cx="575.75" cy="909.08" r="2.2" fill="#f5a040"/>
<line x1="661.2" y1="954.85" x2="661.2" y2="959.67" stroke="#666" stroke-width="1.2" />
<line x1="657.2" y1="954.85" x2="665.2" y2="954.85" stroke="#666" stroke-width="1.2" />
<line x1="657.2" y1="959.67" x2="665.2" y2="959.67" stroke="#666" stroke-width="1.2" />
<circle cx="661.2" cy="957.26" r="2.2" fill="#f5a040"/>
<line x1="233.95" y1="719.57" x2="233.95" y2="729.21" stroke="#666" stroke-width="1.2" />
<line x1="229.95" y1="719.57" x2="237.95" y2="719.57" stroke="#666" stroke-width="1.2" />
<line x1="229.95" y1="729.21" x2="237.95" y2="729.21" stroke="#666" stroke-width="1.2" />
<circle cx="233.95" cy="724.39" r="2.2" fill="#f28080"/>
<line x1="319.4" y1="770.97" x2="319.4" y2="780.6" stroke="#666" stroke-width="1.2" />
<line x1="315.4" y1="770.97" x2="323.4" y2="770.97" stroke="#666" stroke-width="1.2" />
<line x1="315.4" y1="780.6" x2="323.4" y2="780.6" stroke="#666" stroke-width="1.2" />
<circle cx="319.4" cy="775.78" r="2.2" fill="#f28080"/>
<line x1="404.85" y1="819.15" x2="404.85" y2="828.78" stroke="#666" stroke-width="1.2" />
<line x1="400.85" y1="819.15" x2="408.85" y2="819.15" stroke="#666" stroke-width="1.2" />
<line x1="400.85" y1="828.78" x2="408.85" y2="828.78" stroke="#666" stroke-width="1.2" />
<circle cx="404.85" cy="823.96" r="2.2" fill="#f28080"/>
<line x1="490.3" y1="864.11" x2="490.3" y2="889.81" stroke="#666" stroke-width="1.2" />
<line x1="486.3" y1="864.11" x2="494.3" y2="864.11" stroke="#666" stroke-width="1.2" />
<line x1="486.3" y1="889.81" x2="494.3" y2="889.81" stroke="#666" stroke-width="1.2" />
<circle cx="490.3" cy="876.96" r="2.2" fill="#f28080"/>
<line x1="575.75" y1="918.72" x2="575.75" y2="934.78" stroke="#666" stroke-width="1.2" />
<line x1="571.75" y1="918.72" x2="579.75" y2="918.72" stroke="#666" stroke-width="1.2" />
<line x1="571.75" y1="934.78" x2="579.75" y2="934.78" stroke="#666" stroke-width="1.2" />
<circle cx="575.75" cy="926.75" r="2.2" fill="#f28080"/>
<line x1="661.2" y1="966.9" x2="661.2" y2="986.17" stroke="#666" stroke-width="1.2" />
<line x1="657.2" y1="966.9" x2="665.2" y2="966.9" stroke="#666" stroke-width="1.2" />
<line x1="657.2" y1="986.17" x2="665.2" y2="986.17" stroke="#666" stroke-width="1.2" />
<circle cx="661.2" cy="976.53" r="2.2" fill="#f28080"/>
<line x1="233.95" y1="722.79" x2="233.95" y2="732.42" stroke="#666" stroke-width="1.2" />
<line x1="229.95" y1="722.79" x2="237.95" y2="722.79" stroke="#666" stroke-width="1.2" />
<line x1="229.95" y1="732.42" x2="237.95" y2="732.42" stroke="#666" stroke-width="1.2" />
<circle cx="233.95" cy="727.6" r="2.2" fill="#6fa5d4"/>
<line x1="319.4" y1="777.39" x2="319.4" y2="790.24" stroke="#666" stroke-width="1.2" />
<line x1="315.4" y1="777.39" x2="323.4" y2="777.39" stroke="#666" stroke-width="1.2" />
<line x1="315.4" y1="790.24" x2="323.4" y2="790.24" stroke="#666" stroke-width="1.2" />
<circle cx="319.4" cy="783.81" r="2.2" fill="#6fa5d4"/>
<line x1="404.85" y1="833.6" x2="404.85" y2="840.02" stroke="#666" stroke-width="1.2" />
<line x1="400.85" y1="833.6" x2="408.85" y2="833.6" stroke="#666" stroke-width="1.2" />
<line x1="400.85" y1="840.02" x2="408.85" y2="840.02" stroke="#666" stroke-width="1.2" />
<circle cx="404.85" cy="836.81" r="2.2" fill="#6fa5d4"/>
<line x1="490.3" y1="886.6" x2="490.3" y2="899.45" stroke="#666" stroke-width="1.2" />
<line x1="486.3" y1="886.6" x2="494.3" y2="886.6" stroke="#666" stroke-width="1.2" />
<line x1="486.3" y1="899.45" x2="494.3" y2="899.45" stroke="#666" stroke-width="1.2" />
<circle cx="490.3" cy="893.02" r="2.2" fill="#6fa5d4"/>
<line x1="575.75" y1="941.2" x2="575.75" y2="954.05" stroke="#666" stroke-width="1.2" />
<line x1="571.75" y1="941.2" x2="579.75" y2="941.2" stroke="#666" stroke-width="1.2" />
<line x1="571.75" y1="954.05" x2="579.75" y2="954.05" stroke="#666" stroke-width="1.2" />
<circle cx="575.75" cy="947.63" r="2.2" fill="#6fa5d4"/>
<line x1="661.2" y1="994.2" x2="661.2" y2="1010.26" stroke="#666" stroke-width="1.2" />
<line x1="657.2" y1="994.2" x2="665.2" y2="994.2" stroke="#666" stroke-width="1.2" />
<line x1="657.2" y1="1010.26" x2="665.2" y2="1010.26" stroke="#666" stroke-width="1.2" />
<circle cx="661.2" cy="1002.23" r="2.2" fill="#6fa5d4"/>
<rect x="148.5" y="673" width="556.5" height="401.5" fill="none" stroke="#222" stroke-width="2"/>
<line x1="148.5" y1="1074.5" x2="148.5" y2="1082.5" stroke="#222" stroke-width="2" />
<text x="148.5" y="1110" font-size="31.5" text-anchor="middle" fill="#000" >0</text>
<line x1="191.22" y1="1074.5" x2="191.22" y2="1078.5" stroke="#222" stroke-width="1.6" />
<line x1="233.95" y1="1074.5" x2="233.95" y2="1082.5" stroke="#222" stroke-width="2" />
<text x="233.95" y="1110" font-size="31.5" text-anchor="middle" fill="#000" >10</text>
<line x1="276.68" y1="1074.5" x2="276.68" y2="1078.5" stroke="#222" stroke-width="1.6" />
<line x1="319.4" y1="1074.5" x2="319.4" y2="1082.5" stroke="#222" stroke-width="2" />
<text x="319.4" y="1110" font-size="31.5" text-anchor="middle" fill="#000" >20</text>
<line x1="362.12" y1="1074.5" x2="362.12" y2="1078.5" stroke="#222" stroke-width="1.6" />
<line x1="404.85" y1="1074.5" x2="404.85" y2="1082.5" stroke="#222" stroke-width="2" />
<text x="404.85" y="1110" font-size="31.5" text-anchor="middle" fill="#000" >30</text>
<line x1="447.57" y1="1074.5" x2="447.57" y2="1078.5" stroke="#222" stroke-width="1.6" />
<line x1="490.3" y1="1074.5" x2="490.3" y2="1082.5" stroke="#222" stroke-width="2" />
<text x="490.3" y="1110" font-size="31.5" text-anchor="middle" fill="#000" >40</text>
<line x1="533.02" y1="1074.5" x2="533.02" y2="1078.5" stroke="#222" stroke-width="1.6" />
<line x1="575.75" y1="1074.5" x2="575.75" y2="1082.5" stroke="#222" stroke-width="2" />
<text x="575.75" y="1110" font-size="31.5" text-anchor="middle" fill="#000" >50</text>
<line x1="618.48" y1="1074.5" x2="618.48" y2="1078.5" stroke="#222" stroke-width="1.6" />
<line x1="661.2" y1="1074.5" x2="661.2" y2="1082.5" stroke="#222" stroke-width="2" />
<text x="661.2" y="1110" font-size="31.5" text-anchor="middle" fill="#000" >60</text>
<line x1="703.92" y1="1074.5" x2="703.92" y2="1078.5" stroke="#222" stroke-width="1.6" />
<line x1="140.5" y1="673" x2="148.5" y2="673" stroke="#222" stroke-width="2" />
<text x="137" y="684" font-size="31.5" text-anchor="end" fill="#000" >0.0</text>
<line x1="148.5" y1="713.15" x2="152.5" y2="713.15" stroke="#222" stroke-width="1.6" />
<line x1="140.5" y1="753.3" x2="148.5" y2="753.3" stroke="#222" stroke-width="2" />
<text x="137" y="764.3" font-size="31.5" text-anchor="end" fill="#000" >0.5</text>
<line x1="148.5" y1="793.45" x2="152.5" y2="793.45" stroke="#222" stroke-width="1.6" />
<line x1="140.5" y1="833.6" x2="148.5" y2="833.6" stroke="#222" stroke-width="2" />
<text x="137" y="844.6" font-size="31.5" text-anchor="end" fill="#000" >1.0</text>
<line x1="148.5" y1="873.75" x2="152.5" y2="873.75" stroke="#222" stroke-width="1.6" />
<line x1="140.5" y1="913.9" x2="148.5" y2="913.9" stroke="#222" stroke-width="2" />
<text x="137" y="924.9" font-size="31.5" text-anchor="end" fill="#000" >1.5</text>
<line x1="148.5" y1="954.05" x2="152.5" y2="954.05" stroke="#222" stroke-width="1.6" />
<line x1="140.5" y1="994.2" x2="148.5" y2="994.2" stroke="#222" stroke-width="2" />
<text x="137" y="1005.2" font-size="31.5" text-anchor="end" fill="#000" >2.0</text>
<line x1="148.5" y1="1034.35" x2="152.5" y2="1034.35" stroke="#222" stroke-width="1.6" />
<line x1="140.5" y1="1074.5" x2="148.5" y2="1074.5" stroke="#222" stroke-width="2" />
<text x="137" y="1085.5" font-size="31.5" text-anchor="end" fill="#000" >2.5</text>
<text x="426" y="1148.5" font-size="32" text-anchor="middle" fill="#000" >Time (min)</text>
<text transform="translate(78.8,874.5) rotate(-90)" font-size="32" text-anchor="middle">Mass change (kg m<tspan font-size="20" dy="-13">-2</tspan><tspan dy="13">)</tspan></text>
<line x1="176" y1="893.5" x2="245.5" y2="893.5" stroke="#595959" stroke-width="2.2" />
<circle cx="210.7" cy="893.5" r="2.4" fill="#595959"/>
<text x="255" y="904.5" font-size="31" text-anchor="start" fill="#000" >GF</text>
<line x1="176" y1="931.6" x2="245.5" y2="931.6" stroke="#f28080" stroke-width="2.2" />
<circle cx="210.7" cy="931.6" r="2.4" fill="#f28080"/>
<text x="255" y="942.6" font-size="31" text-anchor="start" fill="#000" >PANI<tspan font-size="20" dy="7">ES</tspan><tspan dy="-7" font-size="1">&#8203;</tspan>/GF</text>
<line x1="176" y1="976.1" x2="245.5" y2="976.1" stroke="#f5a040" stroke-width="2.2" />
<circle cx="210.7" cy="976.1" r="2.4" fill="#f5a040"/>
<text x="255" y="987.1" font-size="31" text-anchor="start" fill="#000" >PANI<tspan font-size="20" dy="7">EB</tspan><tspan dy="-7" font-size="1">&#8203;</tspan>/GF</text>
<line x1="176" y1="1020.9" x2="245.5" y2="1020.9" stroke="#6fa5d4" stroke-width="2.2" />
<circle cx="210.7" cy="1020.9" r="2.4" fill="#6fa5d4"/>
<text x="255" y="1031.9" font-size="31" text-anchor="start" fill="#000" >Fe/PANI/GF</text>
<text x="12" y="681" font-size="80" text-anchor="start" fill="#000" >d</text>
</g>
<g id="panel_e">
<rect x="881.3" y="986" width="80.2" height="92.5" fill="#7ba7cc" stroke="#000" stroke-width="2"/>
<line x1="921.4" y1="987.98" x2="921.4" y2="984.01" stroke="#333" stroke-width="1.2" />
<line x1="917.4" y1="987.98" x2="925.4" y2="987.98" stroke="#333" stroke-width="1.2" />
<line x1="917.4" y1="984.01" x2="925.4" y2="984.01" stroke="#333" stroke-width="1.2" />
<text x="921.4" y="976.8" font-size="30.5" text-anchor="middle" fill="#7ba7cc" >23.3</text>
<text transform="translate(936.9,1116.5) rotate(-30)" font-size="32" text-anchor="end">GF</text>
<rect x="1039.5" y="821.24" width="80" height="257.26" fill="#7ba7cc" stroke="#000" stroke-width="2"/>
<line x1="1079.5" y1="826.01" x2="1079.5" y2="816.48" stroke="#333" stroke-width="1.2" />
<line x1="1075.5" y1="826.01" x2="1083.5" y2="826.01" stroke="#333" stroke-width="1.2" />
<line x1="1075.5" y1="816.48" x2="1083.5" y2="816.48" stroke="#333" stroke-width="1.2" />
<text x="1079.5" y="812.04" font-size="30.5" text-anchor="middle" fill="#7ba7cc" >64.8</text>
<text transform="translate(1095,1116.5) rotate(-30)" font-size="32" text-anchor="end">PANI<tspan font-size="22" dy="7">ES</tspan><tspan dy="-7" font-size="1">&#8203;</tspan>/GF</text>
<rect x="1197.2" y="833.95" width="80.1" height="244.55" fill="#7ba7cc" stroke="#000" stroke-width="2"/>
<line x1="1237.25" y1="835.14" x2="1237.25" y2="832.76" stroke="#333" stroke-width="1.2" />
<line x1="1233.25" y1="835.14" x2="1241.25" y2="835.14" stroke="#333" stroke-width="1.2" />
<line x1="1233.25" y1="832.76" x2="1241.25" y2="832.76" stroke="#333" stroke-width="1.2" />
<text x="1237.25" y="824.75" font-size="30.5" text-anchor="middle" fill="#7ba7cc" >61.6</text>
<text transform="translate(1252.75,1116.5) rotate(-30)" font-size="32" text-anchor="end">PANI<tspan font-size="22" dy="7">EB</tspan><tspan dy="-7" font-size="1">&#8203;</tspan>/GF</text>
<rect x="1355.7" y="799.41" width="80.1" height="279.09" fill="#7ba7cc" stroke="#000" stroke-width="2"/>
<line x1="1395.75" y1="803.38" x2="1395.75" y2="795.44" stroke="#333" stroke-width="1.2" />
<line x1="1391.75" y1="803.38" x2="1399.75" y2="803.38" stroke="#333" stroke-width="1.2" />
<line x1="1391.75" y1="795.44" x2="1399.75" y2="795.44" stroke="#333" stroke-width="1.2" />
<text x="1395.75" y="790.21" font-size="30.5" text-anchor="middle" fill="#7ba7cc" >70.3</text>
<text transform="translate(1411.25,1116.5) rotate(-30)" font-size="32" text-anchor="end">Fe/PANI/GF</text>
<rect x="842.5" y="681.5" width="633.5" height="397.0" fill="none" stroke="#444" stroke-width="1.8"/>
<line x1="834.5" y1="1078.5" x2="842.5" y2="1078.5" stroke="#444" stroke-width="1.8" />
<text x="831.5" y="1089.5" font-size="31.5" text-anchor="end" fill="#000" >0</text>
<line x1="834.5" y1="880" x2="842.5" y2="880" stroke="#444" stroke-width="1.8" />
<text x="831.5" y="891" font-size="31.5" text-anchor="end" fill="#000" >50</text>
<line x1="834.5" y1="681.5" x2="842.5" y2="681.5" stroke="#444" stroke-width="1.8" />
<text x="831.5" y="692.5" font-size="31.5" text-anchor="end" fill="#000" >100</text>
<line x1="838.5" y1="979.25" x2="842.5" y2="979.25" stroke="#444" stroke-width="1.5" />
<line x1="838.5" y1="780.75" x2="842.5" y2="780.75" stroke="#444" stroke-width="1.5" />
<text transform="translate(768.5,884) rotate(-90)" font-size="32" text-anchor="middle">Evaporation efficiency (%)</text>
<text x="731" y="679.5" font-size="80" text-anchor="start" fill="#000" >e</text>
</g>
<g id="panel_f">
<defs>
<linearGradient id="tbg" x1="0" x2="1" y1="0" y2="0.25"><stop offset="0" stop-color="#1c64f2"/><stop offset="0.5" stop-color="#2450ee"/><stop offset="0.8" stop-color="#3a38e0"/><stop offset="1" stop-color="#5426cc"/></linearGradient>
<linearGradient id="tbg4" x1="0" x2="1" y1="0.2" y2="0.8"><stop offset="0" stop-color="#ff9a00"/><stop offset="0.25" stop-color="#f8e008"/><stop offset="0.7" stop-color="#f2f010"/><stop offset="1" stop-color="#d4f020"/></linearGradient>
<filter id="tblur1" x="-20%" y="-20%" width="140%" height="140%"><feGaussianBlur stdDeviation="1.2"/></filter>
<filter id="tblur3" x="-20%" y="-20%" width="140%" height="140%"><feGaussianBlur stdDeviation="3"/></filter>
<filter id="tblur4" x="-20%" y="-20%" width="140%" height="140%"><feGaussianBlur stdDeviation="5"/></filter>
</defs>
<polyline fill="none" stroke="#595959" stroke-width="2.2" stroke-linejoin="round"  points="1602,949.25 1608.36,959.61 1621.08,967.37 1633.8,977.73 1665.6,988.08 1697.4,1001.03 1729.2,1003.62 1792.8,998.44 1856.4,1006.21 1920,1001.03 1983.6,1001.03"/>
<rect x="1605.76" y="957" width="5.2" height="5.2" fill="#595959"/>
<rect x="1618.48" y="964.77" width="5.2" height="5.2" fill="#595959"/>
<rect x="1631.2" y="975.13" width="5.2" height="5.2" fill="#595959"/>
<rect x="1663" y="985.48" width="5.2" height="5.2" fill="#595959"/>
<rect x="1694.8" y="998.43" width="5.2" height="5.2" fill="#595959"/>
<rect x="1726.6" y="1001.02" width="5.2" height="5.2" fill="#595959"/>
<rect x="1790.2" y="995.84" width="5.2" height="5.2" fill="#595959"/>
<rect x="1853.8" y="1003.61" width="5.2" height="5.2" fill="#595959"/>
<rect x="1917.4" y="998.43" width="5.2" height="5.2" fill="#595959"/>
<rect x="1981" y="998.43" width="5.2" height="5.2" fill="#595959"/>
<polyline fill="none" stroke="#f5a040" stroke-width="2.2" stroke-linejoin="round"  points="1602,946.66 1608.36,656.69 1621.08,623.03 1633.8,594.56 1665.6,579.02 1697.4,558.31 1729.2,563.49 1792.8,563.49 1856.4,560.9 1920,566.08 1983.6,563.49"/>
<path d="M1608.36,653.09 L1611.76,659.09 L1604.96,659.09 Z" fill="#f5a040"/>
<path d="M1621.08,619.43 L1624.48,625.43 L1617.68,625.43 Z" fill="#f5a040"/>
<path d="M1633.8,590.96 L1637.2,596.96 L1630.4,596.96 Z" fill="#f5a040"/>
<path d="M1665.6,575.42 L1669,581.42 L1662.2,581.42 Z" fill="#f5a040"/>
<path d="M1697.4,554.71 L1700.8,560.71 L1694,560.71 Z" fill="#f5a040"/>
<path d="M1729.2,559.89 L1732.6,565.89 L1725.8,565.89 Z" fill="#f5a040"/>
<path d="M1792.8,559.89 L1796.2,565.89 L1789.4,565.89 Z" fill="#f5a040"/>
<path d="M1856.4,557.3 L1859.8,563.3 L1853,563.3 Z" fill="#f5a040"/>
<path d="M1920,562.48 L1923.4,568.48 L1916.6,568.48 Z" fill="#f5a040"/>
<path d="M1983.6,559.89 L1987,565.89 L1980.2,565.89 Z" fill="#f5a040"/>
<polyline fill="none" stroke="#f28080" stroke-width="2.2" stroke-linejoin="round"  points="1602,946.66 1608.36,626.92 1621.08,610.09 1633.8,573.84 1665.6,545.37 1697.4,547.95 1729.2,547.95 1792.8,542.78 1856.4,550.54 1920,542.78 1983.6,545.37"/>
<circle cx="1608.36" cy="626.92" r="2.9" fill="#f28080"/>
<circle cx="1621.08" cy="610.09" r="2.9" fill="#f28080"/>
<circle cx="1633.8" cy="573.84" r="2.9" fill="#f28080"/>
<circle cx="1665.6" cy="545.37" r="2.9" fill="#f28080"/>
<circle cx="1697.4" cy="547.95" r="2.9" fill="#f28080"/>
<circle cx="1729.2" cy="547.95" r="2.9" fill="#f28080"/>
<circle cx="1792.8" cy="542.78" r="2.9" fill="#f28080"/>
<circle cx="1856.4" cy="550.54" r="2.9" fill="#f28080"/>
<circle cx="1920" cy="542.78" r="2.9" fill="#f28080"/>
<circle cx="1983.6" cy="545.37" r="2.9" fill="#f28080"/>
<polyline fill="none" stroke="#6fa5d4" stroke-width="2.2" stroke-linejoin="round"  points="1602,946.66 1608.36,623.03 1621.08,571.25 1633.8,547.95 1665.6,529.83 1697.4,535.01 1729.2,524.65 1792.8,532.42 1856.4,529.83 1920,535.01 1983.6,524.65"/>
<path d="M1608.36,626.63 L1611.76,620.63 L1604.96,620.63 Z" fill="#6fa5d4"/>
<path d="M1621.08,574.86 L1624.48,568.86 L1617.68,568.86 Z" fill="#6fa5d4"/>
<path d="M1633.8,551.55 L1637.2,545.55 L1630.4,545.55 Z" fill="#6fa5d4"/>
<path d="M1665.6,533.43 L1669,527.43 L1662.2,527.43 Z" fill="#6fa5d4"/>
<path d="M1697.4,538.61 L1700.8,532.61 L1694,532.61 Z" fill="#6fa5d4"/>
<path d="M1729.2,528.25 L1732.6,522.25 L1725.8,522.25 Z" fill="#6fa5d4"/>
<path d="M1792.8,536.02 L1796.2,530.02 L1789.4,530.02 Z" fill="#6fa5d4"/>
<path d="M1856.4,533.43 L1859.8,527.43 L1853,527.43 Z" fill="#6fa5d4"/>
<path d="M1920,538.61 L1923.4,532.61 L1916.6,532.61 Z" fill="#6fa5d4"/>
<path d="M1983.6,528.25 L1987,522.25 L1980.2,522.25 Z" fill="#6fa5d4"/>
<line x1="1602" y1="453.8" x2="1602" y2="1103" stroke="#222" stroke-width="2" />
<line x1="1601" y1="1102" x2="2017" y2="1102" stroke="#222" stroke-width="2" />
<line x1="1602" y1="1102" x2="1602" y2="1110" stroke="#222" stroke-width="2" />
<text x="1602" y="1138.7" font-size="31.5" text-anchor="middle" fill="#000" >0</text>
<line x1="1633.8" y1="1102" x2="1633.8" y2="1106" stroke="#222" stroke-width="1.6" />
<line x1="1665.6" y1="1102" x2="1665.6" y2="1110" stroke="#222" stroke-width="2" />
<text x="1665.6" y="1138.7" font-size="31.5" text-anchor="middle" fill="#000" >10</text>
<line x1="1697.4" y1="1102" x2="1697.4" y2="1106" stroke="#222" stroke-width="1.6" />
<line x1="1729.2" y1="1102" x2="1729.2" y2="1110" stroke="#222" stroke-width="2" />
<text x="1729.2" y="1138.7" font-size="31.5" text-anchor="middle" fill="#000" >20</text>
<line x1="1761" y1="1102" x2="1761" y2="1106" stroke="#222" stroke-width="1.6" />
<line x1="1792.8" y1="1102" x2="1792.8" y2="1110" stroke="#222" stroke-width="2" />
<text x="1792.8" y="1138.7" font-size="31.5" text-anchor="middle" fill="#000" >30</text>
<line x1="1824.6" y1="1102" x2="1824.6" y2="1106" stroke="#222" stroke-width="1.6" />
<line x1="1856.4" y1="1102" x2="1856.4" y2="1110" stroke="#222" stroke-width="2" />
<text x="1856.4" y="1138.7" font-size="31.5" text-anchor="middle" fill="#000" >40</text>
<line x1="1888.2" y1="1102" x2="1888.2" y2="1106" stroke="#222" stroke-width="1.6" />
<line x1="1920" y1="1102" x2="1920" y2="1110" stroke="#222" stroke-width="2" />
<text x="1920" y="1138.7" font-size="31.5" text-anchor="middle" fill="#000" >50</text>
<line x1="1951.8" y1="1102" x2="1951.8" y2="1106" stroke="#222" stroke-width="1.6" />
<line x1="1983.6" y1="1102" x2="1983.6" y2="1110" stroke="#222" stroke-width="2" />
<text x="1983.6" y="1138.7" font-size="31.5" text-anchor="middle" fill="#000" >60</text>
<line x1="2015.4" y1="1102" x2="2015.4" y2="1106" stroke="#222" stroke-width="1.6" />
<line x1="1594" y1="1102" x2="1602" y2="1102" stroke="#222" stroke-width="2" />
<text x="1586" y="1113" font-size="31.5" text-anchor="end" fill="#000" >20</text>
<line x1="1598" y1="1037.28" x2="1602" y2="1037.28" stroke="#222" stroke-width="1.6" />
<line x1="1594" y1="972.55" x2="1602" y2="972.55" stroke="#222" stroke-width="2" />
<text x="1586" y="983.55" font-size="31.5" text-anchor="end" fill="#000" >25</text>
<line x1="1598" y1="907.83" x2="1602" y2="907.83" stroke="#222" stroke-width="1.6" />
<line x1="1594" y1="843.1" x2="1602" y2="843.1" stroke="#222" stroke-width="2" />
<text x="1586" y="854.1" font-size="31.5" text-anchor="end" fill="#000" >30</text>
<line x1="1598" y1="778.38" x2="1602" y2="778.38" stroke="#222" stroke-width="1.6" />
<line x1="1594" y1="713.65" x2="1602" y2="713.65" stroke="#222" stroke-width="2" />
<text x="1586" y="724.65" font-size="31.5" text-anchor="end" fill="#000" >35</text>
<line x1="1598" y1="648.92" x2="1602" y2="648.92" stroke="#222" stroke-width="1.6" />
<line x1="1594" y1="584.2" x2="1602" y2="584.2" stroke="#222" stroke-width="2" />
<text x="1586" y="595.2" font-size="31.5" text-anchor="end" fill="#000" >40</text>
<line x1="1598" y1="519.48" x2="1602" y2="519.48" stroke="#222" stroke-width="1.6" />
<line x1="1594" y1="454.75" x2="1602" y2="454.75" stroke="#222" stroke-width="2" />
<text x="1586" y="465.75" font-size="31.5" text-anchor="end" fill="#000" >45</text>
<text x="1809" y="1187.5" font-size="34" text-anchor="middle" fill="#000" >Time (min)</text>
<text transform="translate(1540.5,780) rotate(-90)" font-size="34.8" text-anchor="middle">Temperature (°C)</text>
<line x1="1647" y1="722" x2="1719.5" y2="722" stroke="#595959" stroke-width="2.2" />
<rect x="1680.6" y="719.4" width="5.2" height="5.2" fill="#595959"/>
<text x="1729" y="733.5" font-size="32.4" text-anchor="start" fill="#000" >Dark(Fe/PANI/GF)</text>
<line x1="1647" y1="762.2" x2="1719.5" y2="762.2" stroke="#f28080" stroke-width="2.2" />
<circle cx="1683.2" cy="762.2" r="2.9" fill="#f28080"/>
<text x="1729" y="773.7" font-size="32.4" text-anchor="start" fill="#000" >PANI<tspan font-size="22" dy="8">ES</tspan><tspan dy="-8" font-size="1">&#8203;</tspan>/GF</text>
<line x1="1647" y1="808.7" x2="1719.5" y2="808.7" stroke="#f5a040" stroke-width="2.2" />
<path d="M1683.2,805.1 L1686.6,811.1 L1679.8,811.1 Z" fill="#f5a040"/>
<text x="1729" y="820.2" font-size="32.4" text-anchor="start" fill="#000" >PANI<tspan font-size="22" dy="8">EB</tspan><tspan dy="-8" font-size="1">&#8203;</tspan>/GF</text>
<line x1="1647" y1="856.1" x2="1719.5" y2="856.1" stroke="#6fa5d4" stroke-width="2.2" />
<path d="M1683.2,859.7 L1686.6,853.7 L1679.8,853.7 Z" fill="#6fa5d4"/>
<text x="1729" y="867.6" font-size="32.4" text-anchor="start" fill="#000" >Fe/PANI/GF</text>
<text x="1491.5" y="500" font-size="80" text-anchor="start" fill="#000" >f</text>
<clipPath id="tc1"><rect x="0" y="0" width="187.7" height="182"/></clipPath>
<g transform="translate(2067.4,440.1)"><g clip-path="url(#tc1)">
<rect width="187.7" height="182" fill="url(#tbg)"/>
<g filter="url(#tblur3)">
<ellipse cx="89.29" cy="165.49" rx="97.82" ry="84.74" fill="#2ca6f2" stroke="#48f07c" stroke-width="5.5"/>
<ellipse cx="89.29" cy="165.49" rx="86.44" ry="73.93" fill="#2aa4f2" stroke="#30d8f0" stroke-width="2.5" opacity="0.9"/>
<ellipse cx="8.53" cy="172.32" rx="6.82" ry="6.82" fill="#80f040" />
</g>
<g filter="url(#tblur3)">
<path d="M31.85,49.48 L158.1,49.48 L129.09,141.61 Q90.42,156.39 51.75,141.61 Z" fill="#2474f0" stroke="#2fc4f2" stroke-width="2.2"/>
<path d="M76.21,98.38 L92.7,98.38 L92.7,146.16 L76.21,146.16 Z" fill="#2aa4f2"/>
</g>
<g filter="url(#tblur4)">
<ellipse cx="94.97" cy="49.48" rx="63.69" ry="43.22" fill="#2468f0" stroke="#30c8f0" stroke-width="5"/>
<ellipse cx="56.3" cy="48.34" rx="26.16" ry="17.06" fill="#34e4c8" />
<ellipse cx="134.78" cy="42.65" rx="15.92" ry="22.75" fill="#2fb4f0" opacity="0.7"/>
<ellipse cx="92.7" cy="58.58" rx="32.98" ry="37.53" fill="#44ec8c" />
<ellipse cx="92.7" cy="58.58" rx="24.45" ry="31.28" fill="#e4f030" />
</g>
<g filter="url(#tblur1)">
<path d="M79.05,30.71 L110.9,32.42 L108.62,80.19 L72.22,74.5 Z" fill="#ff1400" stroke="#ff1400" stroke-width="3" stroke-linejoin="round"/>
<path d="M73.59,67.68 L108.85,71.09 L108.39,80.19 L72.22,74.5 Z" fill="#ff8a10"/>
<ellipse cx="94.97" cy="43.79" rx="10.24" ry="9.1" fill="#a80000" filter="url(#tblur3)"/>
</g>
</g>
<rect width="187.7" height="182" fill="none" stroke="#26262c" stroke-width="1.8"/></g>
<clipPath id="tc2"><rect x="0" y="0" width="187.7" height="181.5"/></clipPath>
<g transform="translate(2067.4,628.3)"><g clip-path="url(#tc2)">
<rect width="187.7" height="181.5" fill="url(#tbg)"/>
<g filter="url(#tblur3)">
<ellipse cx="89.29" cy="164.35" rx="97.82" ry="84.74" fill="#2ca6f2" stroke="#48f07c" stroke-width="5.5"/>
<ellipse cx="89.29" cy="164.35" rx="86.44" ry="73.93" fill="#2aa4f2" stroke="#30d8f0" stroke-width="2.5" opacity="0.9"/>
<ellipse cx="8.53" cy="171.18" rx="6.82" ry="6.82" fill="#80f040" />
</g>
<g filter="url(#tblur3)">
<path d="M23.89,57.44 L162.65,57.44 L132.51,145.02 Q92.13,159.8 51.75,145.02 Z" fill="#2690f2" stroke="#2fc4f2" stroke-width="2.2"/>
<path d="M76.21,106.35 L92.7,106.35 L92.7,149.57 L76.21,149.57 Z" fill="#2adcf2"/>
</g>
<g filter="url(#tblur4)">
<path d="M23.32,57.44 C23.32,27.87 56.3,9.67 94.97,9.67 C134.78,9.67 163.22,27.87 163.22,59.71 C163.22,82.46 149.57,96.11 129.09,102.93 L79.05,120 L56.3,101.8 C35.83,91.56 23.32,77.91 23.32,57.44 Z" fill="#1448e4" transform="translate(0,5)"/>
<path d="M23.32,57.44 C23.32,27.87 56.3,9.67 94.97,9.67 C134.78,9.67 163.22,27.87 163.22,59.71 C163.22,82.46 149.57,96.11 129.09,102.93 L79.05,120 L56.3,101.8 C35.83,91.56 23.32,77.91 23.32,57.44 Z" fill="#24e4dc"/>
<ellipse cx="93.84" cy="59.71" rx="56.87" ry="42.08" fill="#48f088" />
<ellipse cx="93.84" cy="63.13" rx="43.22" ry="37.53" fill="#b4f428" />
<ellipse cx="93.84" cy="65.4" rx="30.71" ry="34.12" fill="#f4f010" />
</g>
<g filter="url(#tblur1)">
<path d="M76.21,36.4 L112.03,37.53 L112.6,91.56 L74.5,93.84 Z" fill="#ff1a00" stroke="#ff1a00" stroke-width="3" stroke-linejoin="round"/>
<path d="M80.76,68.81 L106.35,66.54 L106.35,84.74 L80.19,85.87 Z" fill="#ffd010" filter="url(#tblur1)"/>
<ellipse cx="101.8" cy="50.61" rx="10.24" ry="10.24" fill="#a80000" filter="url(#tblur3)"/>
</g>
</g>
<rect width="187.7" height="181.5" fill="none" stroke="#26262c" stroke-width="1.8"/></g>
<clipPath id="tc3"><rect x="0" y="0" width="187.7" height="181.5"/></clipPath>
<g transform="translate(2067.4,815.7)"><g clip-path="url(#tc3)">
<rect width="187.7" height="181.5" fill="url(#tbg)"/>
<g filter="url(#tblur3)">
<ellipse cx="89.29" cy="164.92" rx="97.82" ry="84.74" fill="#2ca6f2" stroke="#48f07c" stroke-width="5.5"/>
<ellipse cx="89.29" cy="164.92" rx="86.44" ry="73.93" fill="#2aa4f2" stroke="#30d8f0" stroke-width="2.5" opacity="0.9"/>
<ellipse cx="8.53" cy="171.75" rx="6.82" ry="6.82" fill="#80f040" />
</g>
<g filter="url(#tblur3)">
<path d="M24.45,51.18 L154.12,51.18 L132.51,145.59 Q89.85,160.37 47.2,145.59 Z" fill="#2474f0" stroke="#2fc4f2" stroke-width="2.2"/>
<path d="M76.21,100.09 L92.7,100.09 L92.7,150.14 L76.21,150.14 Z" fill="#2aa4f2"/>
</g>
<g filter="url(#tblur4)">
<ellipse cx="89.29" cy="51.18" rx="65.4" ry="44.93" fill="#24d0ea" />
<ellipse cx="90.42" cy="55.73" rx="53.46" ry="35.26" fill="#44ee8c" />
<ellipse cx="90.42" cy="60.85" rx="45.5" ry="24.45" fill="#b4f428"  transform="rotate(-32 90.42 60.85)"/>
<ellipse cx="90.42" cy="61.42" rx="38.1" ry="18.77" fill="#f4f010"  transform="rotate(-36 90.42 61.42)"/>
</g>
<g filter="url(#tblur1)">
<path d="M103.5,35.83 L118.86,53.46 L82.46,86.44 L58.01,71.66 Z" fill="#ff1400" stroke="#ff1400" stroke-width="3" stroke-linejoin="round"/>
<ellipse cx="94.97" cy="58.01" rx="17.06" ry="7.96" fill="#b00000" filter="url(#tblur3)" transform="rotate(-38 94.97 58.01)"/>
</g>
</g>
<rect width="187.7" height="181.5" fill="none" stroke="#26262c" stroke-width="1.8"/></g>
<clipPath id="tc4"><rect x="0" y="0" width="187.7" height="181"/></clipPath>
<g transform="translate(2067.4,1003.3)"><g clip-path="url(#tc4)">
<rect width="187.7" height="181" fill="url(#tbg4)"/>
<g filter="url(#tblur4)">
<ellipse cx="-0.57" cy="33.55" rx="19.34" ry="47.77" fill="#ff8a00" />
<ellipse cx="7.39" cy="84.74" rx="10.24" ry="14.79" fill="#ff3000" />
<ellipse cx="18.77" cy="152.98" rx="22.75" ry="34.12" fill="#ff2a00" />
<ellipse cx="67.68" cy="178" rx="6.82" ry="7.96" fill="#ff3000" />
<ellipse cx="163.22" cy="16.49" rx="34.12" ry="17.06" fill="#ffcc00" opacity="0.8"/>
<ellipse cx="170.04" cy="124.55" rx="10.24" ry="22.75" fill="#ffd000" opacity="0.8"/>
<ellipse cx="180.28" cy="175.73" rx="17.06" ry="13.65" fill="#90f030" />
<ellipse cx="94.97" cy="90.42" rx="78.48" ry="77.34" fill="#f2f410" />
<ellipse cx="94.97" cy="90.42" rx="71.66" ry="69.38" fill="#c0f428" />
<ellipse cx="94.97" cy="90.42" rx="61.99" ry="61.42" fill="#4cee80" />
</g>
<g filter="url(#tblur3)">
<ellipse cx="94.97" cy="90.42" rx="55.73" ry="55.73" fill="#22e0e8" />
</g>
<g filter="url(#tblur3)">
<ellipse cx="100.66" cy="87.01" rx="37.53" ry="27.3" fill="#2a9cf2" opacity="0.8" transform="rotate(40 100.66 87.01)"/>
<ellipse cx="118.86" cy="66.54" rx="17.06" ry="10.24" fill="#2f78ee" opacity="0.8" transform="rotate(30 118.86 66.54)"/>
<ellipse cx="105.21" cy="94.97" rx="21.04" ry="9.1" fill="#3040e2"  transform="rotate(52 105.21 94.97)"/>
<ellipse cx="79.05" cy="73.36" rx="10.24" ry="5.69" fill="#2f80ee" opacity="0.7" transform="rotate(40 79.05 73.36)"/>
<ellipse cx="94.97" cy="137.63" rx="18.2" ry="2.5" fill="#2a60ec" />
</g>
</g>
<rect width="187.7" height="181" fill="none" stroke="#26262c" stroke-width="1.8"/></g>
<text x="2163" y="613.6" font-size="23" font-weight="bold" text-anchor="middle" fill="#fff" style="font-family:'Liberation Sans','Noto Sans CJK SC',sans-serif">T =42.4<tspan font-weight="normal" font-size="21">℃</tspan></text>
<text x="2163" y="800.5" font-size="23" font-weight="bold" text-anchor="middle" fill="#fff" style="font-family:'Liberation Sans','Noto Sans CJK SC',sans-serif">T = 41.6<tspan font-weight="normal" font-size="21">℃</tspan></text>
<text x="2163" y="988.5" font-size="23" font-weight="bold" text-anchor="middle" fill="#fff" style="font-family:'Liberation Sans','Noto Sans CJK SC',sans-serif">T = 40.8<tspan font-weight="normal" font-size="21">℃</tspan></text>
<text x="2163" y="1176" font-size="23" font-weight="bold" text-anchor="middle" fill="#000" style="font-family:'Liberation Sans','Noto Sans CJK SC',sans-serif">T =23.9<tspan font-weight="normal" font-size="21">℃</tspan></text>
<defs><marker id="ah" viewBox="0 0 10 10" refX="9" refY="5" markerWidth="9" markerHeight="7" orient="auto"><path d="M0,0 L10,5 L0,10 Z" fill="#111"/></marker></defs>
<line x1="1997" y1="528" x2="2139" y2="505" stroke="#111" stroke-width="1.4" marker-end="url(#ah)"/>
<line x1="1998" y1="555.5" x2="2128.5" y2="667.5" stroke="#111" stroke-width="1.4" marker-end="url(#ah)"/>
<line x1="1998" y1="577.5" x2="2128.5" y2="848" stroke="#111" stroke-width="1.4" marker-end="url(#ah)"/>
<line x1="1998" y1="1052" x2="2128.5" y2="1076.5" stroke="#111" stroke-width="1.4" marker-end="url(#ah)"/>
</g>
<g id="panel_g">
<line x1="194.4" y1="1230.5" x2="194.4" y2="1661.5" stroke="#777" stroke-width="2.3" stroke-dasharray="15.6 12.8" stroke-dashoffset="7.4"/>
<line x1="345.79" y1="1230.5" x2="345.79" y2="1661.5" stroke="#777" stroke-width="2.3" stroke-dasharray="15.6 12.8" stroke-dashoffset="7.4"/>
<line x1="497.17" y1="1230.5" x2="497.17" y2="1661.5" stroke="#777" stroke-width="2.3" stroke-dasharray="15.6 12.8" stroke-dashoffset="7.4"/>
<line x1="648.56" y1="1230.5" x2="648.56" y2="1661.5" stroke="#777" stroke-width="2.3" stroke-dasharray="15.6 12.8" stroke-dashoffset="7.4"/>
<line x1="799.95" y1="1230.5" x2="799.95" y2="1661.5" stroke="#777" stroke-width="2.3" stroke-dasharray="15.6 12.8" stroke-dashoffset="7.4"/>
<line x1="951.34" y1="1230.5" x2="951.34" y2="1661.5" stroke="#777" stroke-width="2.3" stroke-dasharray="15.6 12.8" stroke-dashoffset="7.4"/>
<line x1="1102.72" y1="1230.5" x2="1102.72" y2="1661.5" stroke="#777" stroke-width="2.3" stroke-dasharray="15.6 12.8" stroke-dashoffset="7.4"/>
<line x1="1254.11" y1="1230.5" x2="1254.11" y2="1661.5" stroke="#777" stroke-width="2.3" stroke-dasharray="15.6 12.8" stroke-dashoffset="7.4"/>
<line x1="1405.5" y1="1230.5" x2="1405.5" y2="1661.5" stroke="#777" stroke-width="2.3" stroke-dasharray="15.6 12.8" stroke-dashoffset="7.4"/>
<polyline fill="none" stroke="#7ba7cc" stroke-width="2" stroke-linejoin="round"  points="194.4,1266.2 219.63,1316.54 244.86,1368.3 270.09,1423.39 295.32,1477.21 320.56,1528.34 345.79,1584.86"/>
<circle cx="194.4" cy="1266.2" r="4.3" fill="#7ba7cc"/>
<circle cx="219.63" cy="1316.54" r="4.3" fill="#7ba7cc"/>
<circle cx="244.86" cy="1368.3" r="4.3" fill="#7ba7cc"/>
<circle cx="270.09" cy="1423.39" r="4.3" fill="#7ba7cc"/>
<circle cx="295.32" cy="1477.21" r="4.3" fill="#7ba7cc"/>
<circle cx="320.56" cy="1528.34" r="4.3" fill="#7ba7cc"/>
<circle cx="345.79" cy="1584.86" r="4.3" fill="#7ba7cc"/>
<polyline fill="none" stroke="#7ba7cc" stroke-width="2" stroke-linejoin="round"  points="345.79,1266.2 371.02,1317.96 396.25,1371.79 421.48,1424.82 446.71,1481.49 471.94,1535.31 497.17,1590.4"/>
<circle cx="345.79" cy="1266.2" r="4.3" fill="#7ba7cc"/>
<circle cx="371.02" cy="1317.96" r="4.3" fill="#7ba7cc"/>
<circle cx="396.25" cy="1371.79" r="4.3" fill="#7ba7cc"/>
<circle cx="421.48" cy="1424.82" r="4.3" fill="#7ba7cc"/>
<circle cx="446.71" cy="1481.49" r="4.3" fill="#7ba7cc"/>
<circle cx="471.94" cy="1535.31" r="4.3" fill="#7ba7cc"/>
<circle cx="497.17" cy="1590.4" r="4.3" fill="#7ba7cc"/>
<polyline fill="none" stroke="#7ba7cc" stroke-width="2" stroke-linejoin="round"  points="497.17,1266.2 522.41,1311.79 547.64,1367.51 572.87,1418.01 598.1,1473.57 623.33,1528.34 648.56,1582.17"/>
<circle cx="497.17" cy="1266.2" r="4.3" fill="#7ba7cc"/>
<circle cx="522.41" cy="1311.79" r="4.3" fill="#7ba7cc"/>
<circle cx="547.64" cy="1367.51" r="4.3" fill="#7ba7cc"/>
<circle cx="572.87" cy="1418.01" r="4.3" fill="#7ba7cc"/>
<circle cx="598.1" cy="1473.57" r="4.3" fill="#7ba7cc"/>
<circle cx="623.33" cy="1528.34" r="4.3" fill="#7ba7cc"/>
<circle cx="648.56" cy="1582.17" r="4.3" fill="#7ba7cc"/>
<polyline fill="none" stroke="#7ba7cc" stroke-width="2" stroke-linejoin="round"  points="648.56,1266.2 673.79,1318.6 699.02,1372.42 724.26,1429.72 749.49,1484.18 774.72,1540.06 799.95,1598"/>
<circle cx="648.56" cy="1266.2" r="4.3" fill="#7ba7cc"/>
<circle cx="673.79" cy="1318.6" r="4.3" fill="#7ba7cc"/>
<circle cx="699.02" cy="1372.42" r="4.3" fill="#7ba7cc"/>
<circle cx="724.26" cy="1429.72" r="4.3" fill="#7ba7cc"/>
<circle cx="749.49" cy="1484.18" r="4.3" fill="#7ba7cc"/>
<circle cx="774.72" cy="1540.06" r="4.3" fill="#7ba7cc"/>
<circle cx="799.95" cy="1598" r="4.3" fill="#7ba7cc"/>
<polyline fill="none" stroke="#7ba7cc" stroke-width="2" stroke-linejoin="round"  points="799.95,1266.2 825.18,1317.96 850.41,1368.94 875.64,1425.61 900.87,1481.49 926.11,1536.58 951.34,1593.09"/>
<circle cx="799.95" cy="1266.2" r="4.3" fill="#7ba7cc"/>
<circle cx="825.18" cy="1317.96" r="4.3" fill="#7ba7cc"/>
<circle cx="850.41" cy="1368.94" r="4.3" fill="#7ba7cc"/>
<circle cx="875.64" cy="1425.61" r="4.3" fill="#7ba7cc"/>
<circle cx="900.87" cy="1481.49" r="4.3" fill="#7ba7cc"/>
<circle cx="926.11" cy="1536.58" r="4.3" fill="#7ba7cc"/>
<circle cx="951.34" cy="1593.09" r="4.3" fill="#7ba7cc"/>
<polyline fill="none" stroke="#7ba7cc" stroke-width="2" stroke-linejoin="round"  points="951.34,1266.2 976.57,1315.91 1001.8,1369.73 1027.03,1424.18 1052.26,1479.27 1077.49,1532.46 1102.72,1586.92"/>
<circle cx="951.34" cy="1266.2" r="4.3" fill="#7ba7cc"/>
<circle cx="976.57" cy="1315.91" r="4.3" fill="#7ba7cc"/>
<circle cx="1001.8" cy="1369.73" r="4.3" fill="#7ba7cc"/>
<circle cx="1027.03" cy="1424.18" r="4.3" fill="#7ba7cc"/>
<circle cx="1052.26" cy="1479.27" r="4.3" fill="#7ba7cc"/>
<circle cx="1077.49" cy="1532.46" r="4.3" fill="#7ba7cc"/>
<circle cx="1102.72" cy="1586.92" r="4.3" fill="#7ba7cc"/>
<polyline fill="none" stroke="#7ba7cc" stroke-width="2" stroke-linejoin="round"  points="1102.72,1266.2 1127.96,1316.54 1153.19,1370.36 1178.42,1424.82 1203.65,1480.06 1228.88,1533.09 1254.11,1588.34"/>
<circle cx="1102.72" cy="1266.2" r="4.3" fill="#7ba7cc"/>
<circle cx="1127.96" cy="1316.54" r="4.3" fill="#7ba7cc"/>
<circle cx="1153.19" cy="1370.36" r="4.3" fill="#7ba7cc"/>
<circle cx="1178.42" cy="1424.82" r="4.3" fill="#7ba7cc"/>
<circle cx="1203.65" cy="1480.06" r="4.3" fill="#7ba7cc"/>
<circle cx="1228.88" cy="1533.09" r="4.3" fill="#7ba7cc"/>
<circle cx="1254.11" cy="1588.34" r="4.3" fill="#7ba7cc"/>
<polyline fill="none" stroke="#7ba7cc" stroke-width="2" stroke-linejoin="round"  points="1254.11,1266.2 1279.34,1314.48 1304.58,1366.88 1329.81,1422.13 1355.04,1475.16 1380.27,1529.61 1405.5,1582.8"/>
<circle cx="1254.11" cy="1266.2" r="4.3" fill="#7ba7cc"/>
<circle cx="1279.34" cy="1314.48" r="4.3" fill="#7ba7cc"/>
<circle cx="1304.58" cy="1366.88" r="4.3" fill="#7ba7cc"/>
<circle cx="1329.81" cy="1422.13" r="4.3" fill="#7ba7cc"/>
<circle cx="1355.04" cy="1475.16" r="4.3" fill="#7ba7cc"/>
<circle cx="1380.27" cy="1529.61" r="4.3" fill="#7ba7cc"/>
<circle cx="1405.5" cy="1582.8" r="4.3" fill="#7ba7cc"/>
<text x="276" y="1633" font-size="31" text-anchor="middle" fill="#7ba7cc" font-weight="bold">2.01</text>
<text x="427.2" y="1633" font-size="31" text-anchor="middle" fill="#7ba7cc" font-weight="bold">2.04</text>
<text x="578.3" y="1633" font-size="31" text-anchor="middle" fill="#7ba7cc" font-weight="bold">1.99</text>
<text x="729.4" y="1633" font-size="31" text-anchor="middle" fill="#7ba7cc" font-weight="bold">2.09</text>
<text x="879.8" y="1633" font-size="31" text-anchor="middle" fill="#7ba7cc" font-weight="bold">2.06</text>
<text x="1030.2" y="1633" font-size="31" text-anchor="middle" fill="#7ba7cc" font-weight="bold">2.02</text>
<text x="1176" y="1630" font-size="31" text-anchor="middle" fill="#7ba7cc" font-weight="bold">2.03</text>
<text x="1326.6" y="1630" font-size="31" text-anchor="middle" fill="#7ba7cc" font-weight="bold">1.99</text>
<rect x="143.8" y="1226.5" width="1312.8" height="435.0" fill="none" stroke="#111" stroke-width="2.2"/>
<line x1="194.4" y1="1661.5" x2="194.4" y2="1669.5" stroke="#111" stroke-width="2.2" />
<text x="194.4" y="1700.3" font-size="31.5" text-anchor="middle" fill="#000" >0</text>
<line x1="270.09" y1="1657.5" x2="270.09" y2="1661.5" stroke="#111" stroke-width="1.8" />
<line x1="345.79" y1="1661.5" x2="345.79" y2="1669.5" stroke="#111" stroke-width="2.2" />
<text x="345.79" y="1700.3" font-size="31.5" text-anchor="middle" fill="#000" >60</text>
<line x1="421.48" y1="1657.5" x2="421.48" y2="1661.5" stroke="#111" stroke-width="1.8" />
<line x1="497.17" y1="1661.5" x2="497.17" y2="1669.5" stroke="#111" stroke-width="2.2" />
<text x="497.17" y="1700.3" font-size="31.5" text-anchor="middle" fill="#000" >120</text>
<line x1="572.87" y1="1657.5" x2="572.87" y2="1661.5" stroke="#111" stroke-width="1.8" />
<line x1="648.56" y1="1661.5" x2="648.56" y2="1669.5" stroke="#111" stroke-width="2.2" />
<text x="648.56" y="1700.3" font-size="31.5" text-anchor="middle" fill="#000" >180</text>
<line x1="724.26" y1="1657.5" x2="724.26" y2="1661.5" stroke="#111" stroke-width="1.8" />
<line x1="799.95" y1="1661.5" x2="799.95" y2="1669.5" stroke="#111" stroke-width="2.2" />
<text x="799.95" y="1700.3" font-size="31.5" text-anchor="middle" fill="#000" >240</text>
<line x1="875.64" y1="1657.5" x2="875.64" y2="1661.5" stroke="#111" stroke-width="1.8" />
<line x1="951.34" y1="1661.5" x2="951.34" y2="1669.5" stroke="#111" stroke-width="2.2" />
<text x="951.34" y="1700.3" font-size="31.5" text-anchor="middle" fill="#000" >300</text>
<line x1="1027.03" y1="1657.5" x2="1027.03" y2="1661.5" stroke="#111" stroke-width="1.8" />
<line x1="1102.72" y1="1661.5" x2="1102.72" y2="1669.5" stroke="#111" stroke-width="2.2" />
<text x="1102.72" y="1700.3" font-size="31.5" text-anchor="middle" fill="#000" >360</text>
<line x1="1178.42" y1="1657.5" x2="1178.42" y2="1661.5" stroke="#111" stroke-width="1.8" />
<line x1="1254.11" y1="1661.5" x2="1254.11" y2="1669.5" stroke="#111" stroke-width="2.2" />
<text x="1254.11" y="1700.3" font-size="31.5" text-anchor="middle" fill="#000" >420</text>
<line x1="1329.81" y1="1657.5" x2="1329.81" y2="1661.5" stroke="#111" stroke-width="1.8" />
<line x1="1405.5" y1="1661.5" x2="1405.5" y2="1669.5" stroke="#111" stroke-width="2.2" />
<text x="1405.5" y="1700.3" font-size="31.5" text-anchor="middle" fill="#000" >480</text>
<line x1="135.8" y1="1266.2" x2="143.8" y2="1266.2" stroke="#111" stroke-width="2.2" />
<text x="130.5" y="1277.2" font-size="31.5" text-anchor="end" fill="#000" >0</text>
<line x1="135.8" y1="1424.5" x2="143.8" y2="1424.5" stroke="#111" stroke-width="2.2" />
<text x="130.5" y="1435.5" font-size="31.5" text-anchor="end" fill="#000" >1</text>
<line x1="135.8" y1="1582.8" x2="143.8" y2="1582.8" stroke="#111" stroke-width="2.2" />
<text x="130.5" y="1593.8" font-size="31.5" text-anchor="end" fill="#000" >2</text>
<line x1="139.8" y1="1345.35" x2="143.8" y2="1345.35" stroke="#111" stroke-width="1.8" />
<line x1="139.8" y1="1503.65" x2="143.8" y2="1503.65" stroke="#111" stroke-width="1.8" />
<text x="800" y="1736" font-size="33.5" text-anchor="middle" fill="#000" >Time (min)</text>
<text transform="translate(94,1440) rotate(-90)" font-size="33.5" text-anchor="middle">Mass change (kg m<tspan font-size="21" dy="-13">-2</tspan><tspan dy="13">)</tspan></text>
<text x="12" y="1246" font-size="80" text-anchor="start" fill="#000" >g</text>
</g>
<g id="panel_h">
<polyline fill="none" stroke="#808080" stroke-width="1.8" stroke-linejoin="round"  points="1729.91,1306.69 1794.42,1301.57 1858.93,1310.11 1923.44,1293.03 1987.96,1298.15 2052.47,1304.98 2116.98,1303.28 2181.49,1310.11"/>
<rect x="1725.91" y="1302.69" width="8" height="8" fill="#808080"/>
<rect x="1790.42" y="1297.57" width="8" height="8" fill="#808080"/>
<rect x="1854.93" y="1306.11" width="8" height="8" fill="#808080"/>
<rect x="1919.44" y="1289.03" width="8" height="8" fill="#808080"/>
<rect x="1983.96" y="1294.15" width="8" height="8" fill="#808080"/>
<rect x="2048.47" y="1300.98" width="8" height="8" fill="#808080"/>
<rect x="2112.98" y="1299.28" width="8" height="8" fill="#808080"/>
<rect x="2177.49" y="1306.11" width="8" height="8" fill="#808080"/>
<polyline fill="none" stroke="#ee8a86" stroke-width="1.8" stroke-linejoin="round"  points="1729.91,1324.63 1794.42,1330.6 1858.93,1327.19 1923.44,1325.48 1987.96,1319.5 2052.47,1330.6 2116.98,1322.06 2181.49,1314.38"/>
<circle cx="1729.91" cy="1324.63" r="4.6" fill="#ee8a86"/>
<circle cx="1794.42" cy="1330.6" r="4.6" fill="#ee8a86"/>
<circle cx="1858.93" cy="1327.19" r="4.6" fill="#ee8a86"/>
<circle cx="1923.44" cy="1325.48" r="4.6" fill="#ee8a86"/>
<circle cx="1987.96" cy="1319.5" r="4.6" fill="#ee8a86"/>
<circle cx="2052.47" cy="1330.6" r="4.6" fill="#ee8a86"/>
<circle cx="2116.98" cy="1322.06" r="4.6" fill="#ee8a86"/>
<circle cx="2181.49" cy="1314.38" r="4.6" fill="#ee8a86"/>
<polyline fill="none" stroke="#7bacd6" stroke-width="1.8" stroke-linejoin="round"  points="1729.91,1353.66 1794.42,1348.54 1858.93,1342.56 1923.44,1353.66 1987.96,1337.44 2052.47,1347.68 2116.98,1347.68 2181.49,1351.1"/>
<path d="M1729.91,1348.16 L1735.41,1357.66 L1724.41,1357.66 Z" fill="#7bacd6"/>
<path d="M1794.42,1343.04 L1799.92,1352.54 L1788.92,1352.54 Z" fill="#7bacd6"/>
<path d="M1858.93,1337.06 L1864.43,1346.56 L1853.43,1346.56 Z" fill="#7bacd6"/>
<path d="M1923.44,1348.16 L1928.94,1357.66 L1917.94,1357.66 Z" fill="#7bacd6"/>
<path d="M1987.96,1331.94 L1993.46,1341.44 L1982.46,1341.44 Z" fill="#7bacd6"/>
<path d="M2052.47,1342.18 L2057.97,1351.68 L2046.97,1351.68 Z" fill="#7bacd6"/>
<path d="M2116.98,1342.18 L2122.48,1351.68 L2111.48,1351.68 Z" fill="#7bacd6"/>
<path d="M2181.49,1345.6 L2186.99,1355.1 L2175.99,1355.1 Z" fill="#7bacd6"/>
<rect x="1665.4" y="1223" width="580.6" height="427" fill="none" stroke="#222" stroke-width="2"/>
<line x1="1665.4" y1="1650" x2="1665.4" y2="1658" stroke="#222" stroke-width="2" />
<text x="1665.4" y="1693" font-size="35" text-anchor="middle" fill="#000" >0</text>
<line x1="1729.91" y1="1650" x2="1729.91" y2="1658" stroke="#222" stroke-width="2" />
<text x="1729.91" y="1693" font-size="35" text-anchor="middle" fill="#000" >1</text>
<line x1="1794.42" y1="1650" x2="1794.42" y2="1658" stroke="#222" stroke-width="2" />
<text x="1794.42" y="1693" font-size="35" text-anchor="middle" fill="#000" >2</text>
<line x1="1858.93" y1="1650" x2="1858.93" y2="1658" stroke="#222" stroke-width="2" />
<text x="1858.93" y="1693" font-size="35" text-anchor="middle" fill="#000" >3</text>
<line x1="1923.44" y1="1650" x2="1923.44" y2="1658" stroke="#222" stroke-width="2" />
<text x="1923.44" y="1693" font-size="35" text-anchor="middle" fill="#000" >4</text>
<line x1="1987.96" y1="1650" x2="1987.96" y2="1658" stroke="#222" stroke-width="2" />
<text x="1987.96" y="1693" font-size="35" text-anchor="middle" fill="#000" >5</text>
<line x1="2052.47" y1="1650" x2="2052.47" y2="1658" stroke="#222" stroke-width="2" />
<text x="2052.47" y="1693" font-size="35" text-anchor="middle" fill="#000" >6</text>
<line x1="2116.98" y1="1650" x2="2116.98" y2="1658" stroke="#222" stroke-width="2" />
<text x="2116.98" y="1693" font-size="35" text-anchor="middle" fill="#000" >7</text>
<line x1="2181.49" y1="1650" x2="2181.49" y2="1658" stroke="#222" stroke-width="2" />
<text x="2181.49" y="1693" font-size="35" text-anchor="middle" fill="#000" >8</text>
<line x1="2246" y1="1650" x2="2246" y2="1658" stroke="#222" stroke-width="2" />
<text x="2246" y="1693" font-size="35" text-anchor="middle" fill="#000" >9</text>
<line x1="1657.4" y1="1650" x2="1665.4" y2="1650" stroke="#222" stroke-width="2" />
<text x="1652" y="1662" font-size="35" text-anchor="end" fill="#000" >0.0</text>
<line x1="1665.4" y1="1607.3" x2="1669.4" y2="1607.3" stroke="#222" stroke-width="1.6" />
<line x1="1657.4" y1="1564.6" x2="1665.4" y2="1564.6" stroke="#222" stroke-width="2" />
<text x="1652" y="1576.6" font-size="35" text-anchor="end" fill="#000" >0.5</text>
<line x1="1665.4" y1="1521.9" x2="1669.4" y2="1521.9" stroke="#222" stroke-width="1.6" />
<line x1="1657.4" y1="1479.2" x2="1665.4" y2="1479.2" stroke="#222" stroke-width="2" />
<text x="1652" y="1491.2" font-size="35" text-anchor="end" fill="#000" >1.0</text>
<line x1="1665.4" y1="1436.5" x2="1669.4" y2="1436.5" stroke="#222" stroke-width="1.6" />
<line x1="1657.4" y1="1393.8" x2="1665.4" y2="1393.8" stroke="#222" stroke-width="2" />
<text x="1652" y="1405.8" font-size="35" text-anchor="end" fill="#000" >1.5</text>
<line x1="1665.4" y1="1351.1" x2="1669.4" y2="1351.1" stroke="#222" stroke-width="1.6" />
<line x1="1657.4" y1="1308.4" x2="1665.4" y2="1308.4" stroke="#222" stroke-width="2" />
<text x="1652" y="1320.4" font-size="35" text-anchor="end" fill="#000" >2.0</text>
<line x1="1665.4" y1="1265.7" x2="1669.4" y2="1265.7" stroke="#222" stroke-width="1.6" />
<line x1="1657.4" y1="1223" x2="1665.4" y2="1223" stroke="#222" stroke-width="2" />
<text x="1652" y="1235" font-size="35" text-anchor="end" fill="#000" >2.5</text>
<text x="1955" y="1737" font-size="35.5" text-anchor="middle" fill="#000" >Time (h)</text>
<text transform="translate(1580,1437) rotate(-90)" font-size="35.5" text-anchor="middle">Evaporation rate (kg m<tspan font-size="22" dy="-14">-2</tspan><tspan dy="14"> h</tspan><tspan font-size="22" dy="-14">-1</tspan><tspan dy="14">)</tspan></text>
<line x1="1973" y1="1526.5" x2="2049" y2="1526.5" stroke="#808080" stroke-width="1.8" />
<rect x="2007" y="1522.5" width="8" height="8" fill="#808080"/>
<text x="2057" y="1538.5" font-size="34" text-anchor="start" fill="#000" >Pure Water</text>
<line x1="1973" y1="1568" x2="2049" y2="1568" stroke="#ee8a86" stroke-width="1.8" />
<circle cx="2011" cy="1568" r="4.6" fill="#ee8a86"/>
<text x="2057" y="1580" font-size="34" text-anchor="start" fill="#000" >3.5 wt%</text>
<line x1="1973" y1="1609" x2="2049" y2="1609" stroke="#7bacd6" stroke-width="1.8" />
<path d="M2011,1603.5 L2016.5,1613 L2005.5,1613 Z" fill="#7bacd6"/>
<text x="2057" y="1621" font-size="34" text-anchor="start" fill="#000" >10 wt%</text>
<text x="1494" y="1250" font-size="80" text-anchor="start" fill="#000" >h</text>
</g>
</svg>
</body></html>
